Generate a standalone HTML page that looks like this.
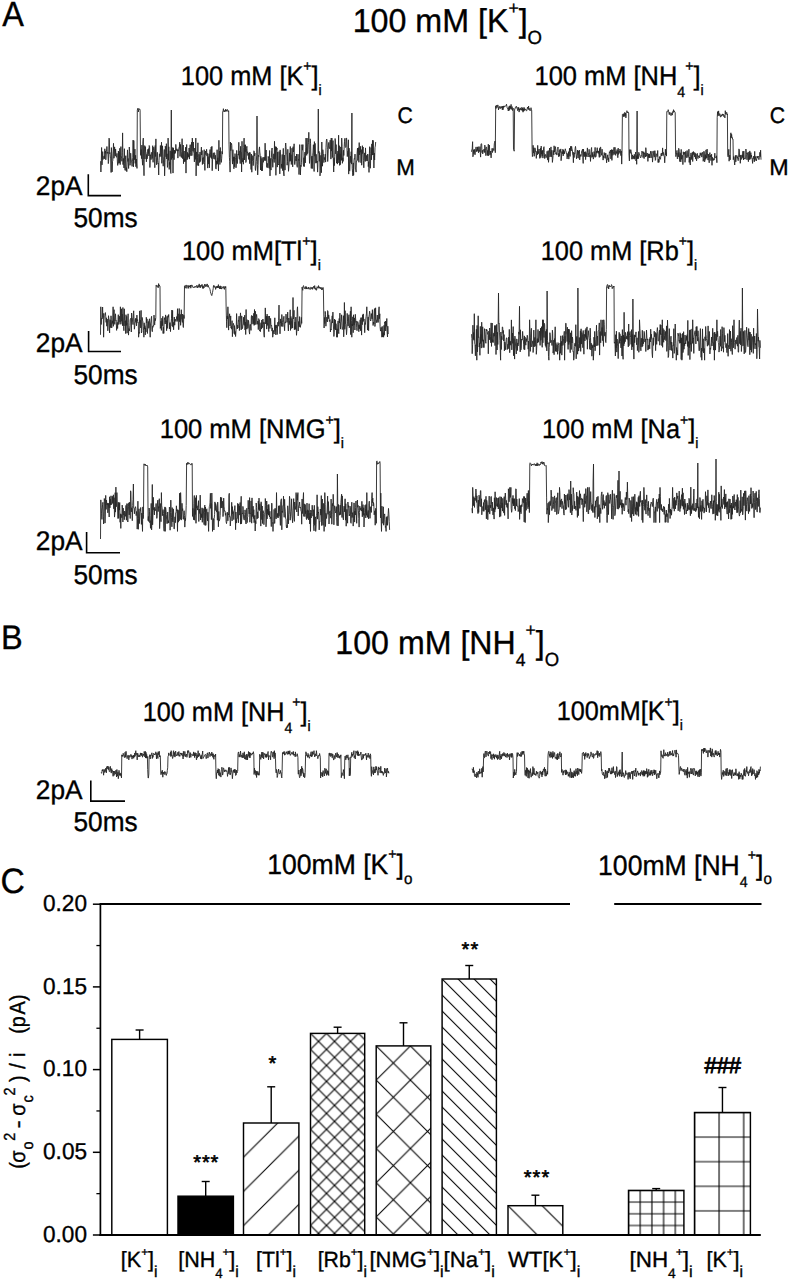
<!DOCTYPE html>
<html><head><meta charset="utf-8"><style>
html,body{margin:0;padding:0;background:#fff;}
svg{display:block;}
text{font-family:"Liberation Sans",sans-serif;fill:#000;stroke:#000;stroke-width:0.35px;font-kerning:none;text-rendering:geometricPrecision;}
.bd{stroke-width:0.9px;}
.st{stroke-width:0.6px;}
</style></head><body>
<svg width="789" height="1280" viewBox="0 0 789 1280">
<defs><pattern id="p2" patternUnits="userSpaceOnUse" x="243.50" y="1123.00" width="34.200" height="34.200"><path d="M-2,36.2 L36.2,-2 M-2,2 L2,-2 M32.2,36.2 L36.2,32.2 " stroke="#000" stroke-width="1.1" fill="none"/></pattern><pattern id="p3" patternUnits="userSpaceOnUse" x="310.50" y="1033.40" width="16.000" height="16.000"><path d="M-2,18.0 L18.0,-2 M-2,2 L2,-2 M14.0,18.0 L18.0,14.0 M-2,-2 L18.0,18.0 M-2,14.0 L2,18.0 M14.0,-2 L18.0,2 " stroke="#000" stroke-width="1.1" fill="none"/></pattern><pattern id="p4" patternUnits="userSpaceOnUse" x="376.20" y="1045.90" width="34.200" height="34.200"><path d="M-2,36.2 L36.2,-2 M-2,2 L2,-2 M32.2,36.2 L36.2,32.2 M-2,-2 L36.2,36.2 M-2,32.2 L2,36.2 M32.2,-2 L36.2,2 " stroke="#000" stroke-width="1.1" fill="none"/></pattern><pattern id="p5" patternUnits="userSpaceOnUse" x="442.10" y="979.00" width="16.000" height="16.000"><path d="M-2,-2 L18.0,18.0 M-2,14.0 L2,18.0 M14.0,-2 L18.0,2 " stroke="#000" stroke-width="1.1" fill="none"/></pattern><pattern id="p6" patternUnits="userSpaceOnUse" x="508.00" y="1205.70" width="34.200" height="34.200"><path d="M-2,-2 L36.2,36.2 M-2,32.2 L2,36.2 M32.2,-2 L36.2,2 " stroke="#000" stroke-width="1.1" fill="none"/></pattern><pattern id="p7" patternUnits="userSpaceOnUse" x="628.50" y="1190.40" width="11.700" height="11.700"><path d="M0,0 H11.7 M0,11.7 H11.7 M0,0 V11.7 M11.7,0 V11.7" stroke="#000" stroke-width="1.1" fill="none"/></pattern><pattern id="p8" patternUnits="userSpaceOnUse" x="694.50" y="1112.50" width="24.600" height="24.600"><path d="M0,0 H24.6 M0,24.6 H24.6 M0,0 V24.6 M24.6,0 V24.6" stroke="#000" stroke-width="1.1" fill="none"/></pattern></defs>
<rect width="789" height="1280" fill="#fff"/>
<text x="2.23" y="26.00" font-size="35" transform="translate(2.30,0) scale(0.9264,1) translate(-2.30,0)"><tspan y="26.00" font-size="35">A</tspan></text>
<text x="1.01" y="648.90" font-size="34" transform="translate(3.80,0) scale(0.9560,1) translate(-3.80,0)"><tspan y="648.90" font-size="34">B</tspan></text>
<text x="0.31" y="893.20" font-size="35.3" transform="translate(2.10,0) scale(0.9528,1) translate(-2.10,0)"><tspan y="893.20" font-size="35.3">C</tspan></text>
<text x="352.59" y="31.50" font-size="33" transform="translate(355.10,0) scale(0.9761,1) translate(-355.10,0)"><tspan y="31.50" font-size="33">100 mM [K</tspan><tspan y="14.10" font-size="18">+</tspan><tspan y="31.50" font-size="33">]</tspan><tspan y="44.40" font-size="19">O</tspan></text>
<text x="335.29" y="653.90" font-size="33" transform="translate(337.80,0) scale(0.9741,1) translate(-337.80,0)"><tspan y="653.90" font-size="33">100 mM [NH</tspan><tspan y="665.70" font-size="18">4</tspan><tspan y="635.50" font-size="18">+</tspan><tspan y="653.90" font-size="33">]</tspan><tspan y="665.70" font-size="19">O</tspan></text>
<text x="180.74" y="84.80" font-size="27" transform="translate(182.80,0) scale(0.9382,1) translate(-182.80,0)"><tspan y="84.80" font-size="27">100 mM [K</tspan><tspan y="71.40" font-size="15">+</tspan><tspan y="84.80" font-size="27">]</tspan><tspan y="95.00" font-size="15">i</tspan></text>
<text x="534.44" y="84.70" font-size="27" transform="translate(536.50,0) scale(0.9422,1) translate(-536.50,0)"><tspan y="84.70" font-size="27">100 mM [NH</tspan><tspan y="96.70" font-size="15">4</tspan><tspan y="71.30" font-size="15">+</tspan><tspan y="84.70" font-size="27">]</tspan><tspan y="94.90" font-size="15">i</tspan></text>
<text x="181.84" y="259.60" font-size="27" transform="translate(183.90,0) scale(0.9435,1) translate(-183.90,0)"><tspan y="259.60" font-size="27">100 mM[Tl</tspan><tspan y="246.20" font-size="15">+</tspan><tspan y="259.60" font-size="27">]</tspan><tspan y="269.80" font-size="15">i</tspan></text>
<text x="540.64" y="259.60" font-size="27" transform="translate(542.70,0) scale(0.9383,1) translate(-542.70,0)"><tspan y="259.60" font-size="27">100 mM [Rb</tspan><tspan y="246.20" font-size="15">+</tspan><tspan y="259.60" font-size="27">]</tspan><tspan y="269.80" font-size="15">i</tspan></text>
<text x="159.64" y="437.90" font-size="27" transform="translate(161.70,0) scale(0.9441,1) translate(-161.70,0)"><tspan y="437.90" font-size="27">100 mM [NMG</tspan><tspan y="424.50" font-size="15">+</tspan><tspan y="437.90" font-size="27">]</tspan><tspan y="448.10" font-size="15">i</tspan></text>
<text x="541.84" y="437.90" font-size="27" transform="translate(543.90,0) scale(0.9389,1) translate(-543.90,0)"><tspan y="437.90" font-size="27">100 mM [Na</tspan><tspan y="424.50" font-size="15">+</tspan><tspan y="437.90" font-size="27">]</tspan><tspan y="448.10" font-size="15">i</tspan></text>
<text x="142.54" y="720.60" font-size="27" transform="translate(144.60,0) scale(0.9358,1) translate(-144.60,0)"><tspan y="720.60" font-size="27">100 mM [NH</tspan><tspan y="732.60" font-size="15">4</tspan><tspan y="707.20" font-size="15">+</tspan><tspan y="720.60" font-size="27">]</tspan><tspan y="730.80" font-size="15">i</tspan></text>
<text x="556.64" y="720.10" font-size="27" transform="translate(558.70,0) scale(0.9333,1) translate(-558.70,0)"><tspan y="720.10" font-size="27">100mM[K</tspan><tspan y="706.70" font-size="15">+</tspan><tspan y="720.10" font-size="27">]</tspan><tspan y="730.30" font-size="15">i</tspan></text>
<text x="267.17" y="874.40" font-size="28" transform="translate(269.30,0) scale(0.9478,1) translate(-269.30,0)"><tspan y="874.40" font-size="28">100mM [K</tspan><tspan y="859.40" font-size="15">+</tspan><tspan y="874.40" font-size="28">]</tspan><tspan y="883.70" font-size="16">o</tspan></text>
<text x="597.97" y="874.60" font-size="28" transform="translate(600.10,0) scale(0.9488,1) translate(-600.10,0)"><tspan y="874.60" font-size="28">100mM [NH</tspan><tspan y="886.60" font-size="15">4</tspan><tspan y="859.60" font-size="15">+</tspan><tspan y="874.60" font-size="28">]</tspan><tspan y="883.90" font-size="16">o</tspan></text>
<text x="397.46" y="122.80" font-size="22.5" transform="translate(398.60,0) scale(0.9404,1) translate(-398.60,0)"><tspan y="122.80" font-size="22.5">C</tspan></text>
<text x="396.35" y="175.00" font-size="22.5" transform="translate(398.20,0) scale(0.9899,1) translate(-398.20,0)"><tspan y="175.00" font-size="22.5">M</tspan></text>
<text x="769.76" y="122.70" font-size="22.5" transform="translate(770.90,0) scale(0.9404,1) translate(-770.90,0)"><tspan y="122.70" font-size="22.5">C</tspan></text>
<text x="769.35" y="175.00" font-size="22.5" transform="translate(771.20,0) scale(1.0365,1) translate(-771.20,0)"><tspan y="175.00" font-size="22.5">M</tspan></text>
<text x="35.84" y="195.20" font-size="27" transform="translate(37.20,0) scale(0.9736,1) translate(-37.20,0)"><tspan y="195.20" font-size="27">2pA</tspan></text>
<text x="73.50" y="227.00" font-size="27.4" transform="translate(74.60,0) scale(0.9566,1) translate(-74.60,0)"><tspan y="227.00" font-size="27.4">50ms</tspan></text>
<polyline points="88.3,174.3 88.3,195.6 121.0,195.6" fill="none" stroke="#000" stroke-width="1.6"/>
<text x="35.84" y="351.60" font-size="27" transform="translate(37.20,0) scale(0.9736,1) translate(-37.20,0)"><tspan y="351.60" font-size="27">2pA</tspan></text>
<text x="73.50" y="383.90" font-size="27.4" transform="translate(74.60,0) scale(0.9566,1) translate(-74.60,0)"><tspan y="383.90" font-size="27.4">50ms</tspan></text>
<polyline points="88.6,331.0 88.6,351.5 121.0,351.5" fill="none" stroke="#000" stroke-width="1.6"/>
<text x="35.84" y="550.30" font-size="27" transform="translate(37.20,0) scale(0.9736,1) translate(-37.20,0)"><tspan y="550.30" font-size="27">2pA</tspan></text>
<text x="73.50" y="583.80" font-size="27.4" transform="translate(74.60,0) scale(0.9566,1) translate(-74.60,0)"><tspan y="583.80" font-size="27.4">50ms</tspan></text>
<polyline points="86.6,532.0 86.6,552.7 120.0,552.7" fill="none" stroke="#000" stroke-width="1.6"/>
<text x="35.84" y="798.60" font-size="27" transform="translate(37.20,0) scale(0.9736,1) translate(-37.20,0)"><tspan y="798.60" font-size="27">2pA</tspan></text>
<text x="73.50" y="830.80" font-size="27.4" transform="translate(74.60,0) scale(0.9566,1) translate(-74.60,0)"><tspan y="830.80" font-size="27.4">50ms</tspan></text>
<polyline points="90.8,780.6 90.8,801.1 125.0,801.1" fill="none" stroke="#000" stroke-width="1.6"/>
<polyline points="100.6,161.2 100.9,172.0 101.3,160.8 101.6,147.5 102.0,164.9 102.3,161.2 102.7,151.6 103.0,159.5 103.4,158.3 103.7,158.0 104.1,155.9 104.4,158.8 104.8,148.8 105.1,153.5 105.5,150.9 105.8,159.8 106.2,155.0 106.5,151.6 106.9,146.5 107.2,151.1 107.6,153.4 107.9,152.1 108.3,163.6 108.6,161.2 109.0,138.1 109.3,138.7 109.7,153.7 110.0,152.6 110.4,157.8 110.7,157.5 111.1,172.5 111.4,147.6 111.8,153.4 112.1,171.9 112.5,161.5 112.8,160.8 113.2,151.9 113.5,143.3 113.9,158.3 114.2,157.0 114.6,146.9 114.9,150.8 115.3,156.0 115.6,149.1 116.0,155.2 116.3,157.2 116.7,157.1 117.0,153.4 117.4,162.0 117.7,165.4 118.1,161.7 118.4,151.0 118.8,163.4 119.1,152.1 119.5,162.8 119.8,148.3 120.2,164.6 120.5,157.1 120.9,146.6 121.2,155.3 121.6,158.2 121.9,161.3 122.3,152.3 122.6,132.9 123.0,164.6 123.3,158.4 123.7,163.9 124.0,168.0 124.4,148.7 124.7,163.6 125.1,170.3 125.4,159.8 125.8,155.7 126.1,170.6 126.5,167.7 126.8,171.7 127.2,160.5 127.5,149.9 127.9,161.4 128.2,158.5 128.6,168.5 128.9,162.5 129.3,147.0 129.6,151.7 130.0,165.3 130.3,163.5 130.7,153.2 131.0,158.0 131.4,161.0 131.7,161.9 132.1,166.4 132.4,161.1 132.8,157.7 133.1,140.1 133.5,166.8 133.8,140.6 134.2,158.0 134.5,159.7 134.9,149.1 135.2,163.4 135.6,155.3 135.9,166.7 136.3,159.0 136.6,163.9 137.0,168.4 137.3,110.2 137.7,108.7 138.0,108.1 138.4,111.9 138.7,109.5 139.1,108.7 139.4,109.4 139.8,109.1 140.1,110.2 140.5,154.0 140.8,155.4 141.2,149.5 141.5,158.6 141.9,145.1 142.2,159.2 142.6,165.2 142.9,141.9 143.3,138.1 143.6,159.3 144.0,175.7 144.3,146.4 144.7,145.6 145.0,159.1 145.4,146.6 145.7,151.6 146.1,152.8 146.4,161.8 146.8,154.4 147.1,158.9 147.5,155.9 147.8,149.4 148.2,153.6 148.5,148.7 148.9,156.0 149.2,145.5 149.6,146.7 149.9,167.5 150.3,156.6 150.6,154.7 151.0,159.7 151.3,152.4 151.7,152.4 152.0,158.6 152.4,158.2 152.7,145.7 153.1,162.3 153.4,150.6 153.8,147.2 154.1,148.9 154.5,151.9 154.8,167.7 155.2,145.5 155.5,156.5 155.9,138.9 156.2,157.5 156.6,164.8 156.9,156.5 157.3,152.3 157.6,160.9 158.0,163.9 158.3,163.1 158.7,175.0 159.0,160.3 159.4,153.8 159.7,156.6 160.1,156.6 160.4,145.5 160.8,155.1 161.1,156.5 161.5,142.2 161.8,163.3 162.2,151.0 162.5,145.8 162.9,160.6 163.2,166.2 163.6,159.9 163.9,156.3 164.3,149.5 164.6,175.9 165.0,162.6 165.3,146.2 165.7,149.3 166.0,156.8 166.4,143.7 166.7,159.0 167.1,153.8 167.4,167.4 167.8,164.8 168.1,138.1 168.5,160.3 168.8,146.8 169.2,169.4 169.5,162.3 169.9,164.6 170.2,150.8 170.6,172.2 170.9,173.5 171.3,110.0 171.6,159.5 172.0,151.7 172.3,158.0 172.7,147.5 173.0,173.1 173.4,147.9 173.7,152.0 174.1,159.7 174.4,150.2 174.8,153.9 175.1,150.4 175.5,152.7 175.8,144.4 176.2,149.6 176.5,150.4 176.9,148.8 177.2,151.1 177.6,149.8 177.9,158.1 178.3,149.8 178.6,150.5 179.0,147.7 179.3,148.2 179.7,142.2 180.0,156.4 180.4,144.4 180.7,147.9 181.1,155.8 181.4,157.5 181.8,151.6 182.1,138.7 182.5,158.6 182.8,156.4 183.2,145.0 183.5,163.7 183.9,152.9 184.2,151.0 184.6,161.7 184.9,158.9 185.3,161.4 185.6,147.2 186.0,173.1 186.3,152.1 186.7,144.5 187.0,159.9 187.4,152.3 187.7,158.6 188.1,153.5 188.4,154.5 188.8,157.1 189.1,148.0 189.5,159.1 189.8,149.7 190.2,144.7 190.5,152.6 190.9,155.8 191.2,148.6 191.6,142.2 191.9,155.6 192.3,138.1 192.6,143.3 193.0,151.2 193.3,142.0 193.7,152.3 194.0,153.5 194.4,161.9 194.7,148.1 195.1,150.4 195.4,159.4 195.8,138.1 196.1,175.9 196.5,151.9 196.8,152.2 197.2,165.5 197.5,157.3 197.9,142.8 198.2,164.0 198.6,165.7 198.9,154.3 199.3,156.5 199.6,162.5 200.0,152.0 200.3,161.6 200.7,160.2 201.0,152.9 201.4,147.1 201.7,155.0 202.1,150.5 202.4,164.5 202.8,157.8 203.1,163.8 203.5,157.6 203.8,158.2 204.2,149.7 204.5,162.6 204.9,170.4 205.2,153.0 205.6,151.1 205.9,154.7 206.3,151.6 206.6,149.3 207.0,156.1 207.3,153.3 207.7,168.1 208.0,156.5 208.4,159.2 208.7,164.1 209.1,153.7 209.4,167.8 209.8,151.2 210.1,149.5 210.5,154.4 210.8,157.5 211.2,147.0 211.5,158.5 211.9,146.3 212.2,170.7 212.6,159.1 212.9,154.9 213.3,152.9 213.6,157.1 214.0,158.9 214.3,152.6 214.7,153.4 215.0,159.4 215.4,155.3 215.7,168.2 216.1,169.1 216.4,160.9 216.8,164.5 217.1,149.7 217.5,163.7 217.8,157.8 218.2,162.7 218.5,170.9 218.9,140.3 219.2,161.5 219.6,151.0 219.9,164.5 220.3,147.5 220.6,154.7 221.0,160.0 221.3,162.4 221.7,158.2 222.0,151.4 222.4,154.1 222.7,111.6 223.1,110.6 223.4,108.7 223.8,111.7 224.1,111.2 224.5,111.8 224.8,110.4 225.2,111.5 225.5,109.3 225.9,111.2 226.2,109.8 226.6,111.1 226.9,111.4 227.3,109.5 227.6,110.1 228.0,110.1 228.3,111.6 228.7,110.9 229.0,144.1 229.4,157.6 229.7,161.4 230.1,172.1 230.4,142.0 230.8,150.7 231.1,145.2 231.5,143.3 231.8,145.3 232.2,159.4 232.5,164.1 232.9,149.7 233.2,161.2 233.6,156.9 233.9,168.8 234.3,156.8 234.6,166.8 235.0,153.6 235.3,157.8 235.7,159.9 236.0,167.8 236.4,163.1 236.7,150.4 237.1,163.5 237.4,163.5 237.8,155.4 238.1,154.1 238.5,155.2 238.8,142.3 239.2,158.3 239.5,159.3 239.9,150.9 240.2,163.6 240.6,146.3 240.9,151.9 241.3,152.2 241.6,172.0 242.0,141.3 242.3,159.5 242.7,162.1 243.0,158.4 243.4,164.2 243.7,147.5 244.1,138.1 244.4,160.0 244.8,144.8 245.1,151.8 245.5,144.8 245.8,162.5 246.2,161.4 246.5,148.3 246.9,146.3 247.2,152.7 247.6,151.8 247.9,155.5 248.3,153.2 248.6,159.4 249.0,156.9 249.3,152.5 249.7,163.7 250.0,152.4 250.4,160.7 250.7,161.1 251.1,169.5 251.4,154.0 251.8,172.2 252.1,161.4 252.5,159.9 252.8,155.6 253.2,165.6 253.5,160.4 253.9,150.8 254.2,151.3 254.6,155.8 254.9,153.1 255.3,169.0 255.6,170.5 256.0,165.9 256.3,161.6 256.7,155.2 257.0,116.0 257.4,164.4 257.7,174.9 258.1,165.3 258.4,155.3 258.8,156.5 259.1,150.0 259.5,146.9 259.8,152.0 260.2,155.2 260.5,170.0 260.9,156.4 261.2,166.7 261.6,170.9 261.9,158.4 262.3,170.9 262.6,165.2 263.0,157.3 263.3,162.3 263.7,159.7 264.0,157.0 264.4,157.6 264.7,160.6 265.1,143.2 265.4,152.9 265.8,160.7 266.1,150.0 266.5,164.1 266.8,167.4 267.2,163.4 267.5,163.5 267.9,167.8 268.2,156.4 268.6,158.7 268.9,165.1 269.3,168.4 269.6,150.5 270.0,175.9 270.3,158.4 270.7,166.9 271.0,170.1 271.4,157.6 271.7,150.3 272.1,148.0 272.4,158.9 272.8,167.3 273.1,159.6 273.5,158.9 273.8,153.8 274.2,162.5 274.5,141.3 274.9,159.3 275.2,157.5 275.6,146.6 275.9,175.3 276.3,146.9 276.6,150.1 277.0,148.0 277.3,167.1 277.7,152.1 278.0,164.6 278.4,165.0 278.7,163.6 279.1,151.5 279.4,155.9 279.8,173.9 280.1,149.9 280.5,154.1 280.8,161.0 281.2,168.5 281.5,164.0 281.9,166.7 282.2,154.5 282.6,170.6 282.9,166.6 283.3,148.4 283.6,173.0 284.0,175.9 284.3,155.0 284.7,161.1 285.0,170.1 285.4,146.7 285.7,143.0 286.1,147.9 286.4,154.4 286.8,154.6 287.1,165.2 287.5,161.5 287.8,149.3 288.2,162.0 288.5,171.3 288.9,166.1 289.2,161.7 289.6,152.9 289.9,161.5 290.3,146.5 290.6,160.7 291.0,154.7 291.3,164.5 291.7,159.0 292.0,148.2 292.4,158.0 292.7,166.9 293.1,146.7 293.4,152.0 293.8,149.8 294.1,143.8 294.5,163.0 294.8,164.6 295.2,161.8 295.5,158.6 295.9,156.0 296.2,161.0 296.6,154.0 296.9,166.1 297.3,167.3 297.6,166.4 298.0,154.2 298.3,160.4 298.7,159.2 299.0,174.5 299.4,161.4 299.7,144.6 300.1,164.1 300.4,175.0 300.8,165.2 301.1,166.6 301.5,162.2 301.8,144.7 302.2,146.4 302.5,150.2 302.9,144.6 303.2,163.5 303.6,166.3 303.9,157.7 304.3,166.6 304.6,155.3 305.0,152.0 305.3,162.9 305.7,147.9 306.0,138.1 306.4,146.3 306.7,155.4 307.1,138.1 307.4,153.7 307.8,153.3 308.1,144.9 308.5,142.5 308.8,132.3 309.2,149.3 309.5,163.4 309.9,155.8 310.2,138.8 310.6,143.7 310.9,156.8 311.3,168.4 311.6,157.0 312.0,155.9 312.3,168.6 312.7,155.4 313.0,152.1 313.4,144.7 313.7,150.9 314.1,171.5 314.4,141.6 314.8,156.2 315.1,143.4 315.5,155.1 315.8,163.2 316.2,154.3 316.5,162.6 316.9,162.6 317.2,161.0 317.6,172.1 317.9,164.9 318.3,109.0 318.6,153.1 319.0,151.2 319.3,161.4 319.7,152.6 320.0,175.9 320.4,170.9 320.7,155.5 321.1,155.3 321.4,172.7 321.8,142.0 322.1,154.5 322.5,166.2 322.8,149.7 323.2,153.5 323.5,153.9 323.9,162.6 324.2,157.4 324.6,159.7 324.9,159.6 325.3,154.1 325.6,162.1 326.0,147.3 326.3,141.0 326.7,139.0 327.0,140.5 327.4,149.5 327.7,161.5 328.1,153.9 328.4,145.9 328.8,142.4 329.1,147.2 329.5,148.6 329.8,146.9 330.2,140.2 330.5,149.1 330.9,159.1 331.2,138.1 331.6,151.1 331.9,138.1 332.3,157.6 332.6,150.6 333.0,140.6 333.3,158.8 333.7,172.0 334.0,157.9 334.4,165.6 334.7,156.2 335.1,138.5 335.4,141.0 335.8,153.9 336.1,144.6 336.5,163.2 336.8,161.2 337.2,153.8 337.5,164.1 337.9,151.1 338.2,162.9 338.6,135.2 338.9,159.6 339.3,145.7 339.6,165.4 340.0,153.8 340.3,164.7 340.7,146.9 341.0,149.4 341.4,160.4 341.7,138.1 342.1,146.5 342.4,163.3 342.8,157.8 343.1,161.4 343.5,150.3 343.8,155.5 344.2,146.6 344.5,141.4 344.9,138.3 345.2,147.2 345.6,147.4 345.9,146.9 346.3,138.1 346.6,138.1 347.0,150.0 347.3,156.6 347.7,151.0 348.0,150.5 348.4,139.8 348.7,174.1 349.1,148.2 349.4,170.4 349.8,171.1 350.1,161.6 350.5,156.2 350.8,162.6 351.2,151.7 351.5,164.1 351.9,113.0 352.2,168.3 352.6,172.8 352.9,175.9 353.3,162.9 353.6,175.2 354.0,160.1 354.3,158.5 354.7,159.2 355.0,154.1 355.4,169.2 355.7,169.2 356.1,172.1 356.4,161.0 356.8,161.2 357.1,153.3 357.5,148.1 357.8,160.4 358.2,158.2 358.5,147.7 358.9,162.3 359.2,142.6 359.6,154.9 359.9,151.0 360.3,152.2 360.6,146.3 361.0,162.8 361.3,149.6 361.7,165.2 362.0,157.9 362.4,145.7 362.7,153.6 363.1,147.0 363.4,160.7 363.8,167.8 364.1,161.2 364.5,152.9 364.8,156.0 365.2,161.5 365.5,147.9 365.9,160.9 366.2,160.9 366.6,155.4 366.9,157.6 367.3,161.0 367.6,154.0 368.0,154.8 368.3,166.6 368.7,161.7 369.0,172.4 369.4,153.2 369.7,146.7 370.1,168.1 370.4,168.2 370.8,153.7 371.1,147.6 371.5,159.8 371.8,143.9 372.2,155.1 372.5,140.3 372.9,155.0 373.2,140.4 373.6,155.4 373.9,168.0 374.3,153.1 374.6,160.0 375.0,147.6 375.3,146.1 375.7,142.0" fill="none" stroke="#262626" stroke-width="0.9" stroke-linejoin="bevel"/>
<polyline points="471.5,151.8 471.9,149.4 472.2,149.3 472.6,141.7 472.9,156.8 473.3,154.9 473.6,149.7 474.0,153.7 474.3,152.4 474.7,149.3 475.0,154.8 475.4,150.4 475.7,149.4 476.1,146.9 476.4,151.6 476.8,149.6 477.1,151.4 477.5,147.2 477.8,150.3 478.2,146.6 478.5,152.8 478.9,150.1 479.2,151.1 479.6,151.5 479.9,146.6 480.3,152.5 480.6,157.1 481.0,144.1 481.3,143.6 481.7,143.9 482.0,152.6 482.4,150.3 482.7,153.9 483.1,152.2 483.4,150.3 483.8,150.4 484.1,149.0 484.5,152.5 484.8,145.1 485.2,147.6 485.5,150.3 485.9,155.7 486.2,147.3 486.6,146.9 486.9,148.8 487.3,154.9 487.6,150.5 488.0,156.0 488.3,144.2 488.7,155.5 489.0,154.5 489.4,145.1 489.7,151.0 490.1,154.8 490.4,151.0 490.8,154.5 491.1,157.9 491.5,152.5 491.8,150.5 492.2,148.2 492.5,152.5 492.9,149.9 493.2,149.2 493.6,148.6 493.9,150.6 494.3,143.8 494.6,142.3 495.0,141.1 495.3,152.7 495.7,105.8 496.0,108.5 496.4,106.4 496.7,105.2 497.1,107.5 497.4,106.6 497.8,104.9 498.1,105.6 498.5,109.9 498.8,107.8 499.2,108.0 499.5,106.9 499.9,106.2 500.2,108.7 500.6,107.5 500.9,106.8 501.3,107.8 501.6,106.5 502.0,108.1 502.3,109.7 502.7,106.1 503.0,109.8 503.4,106.1 503.7,107.5 504.1,105.8 504.4,106.6 504.8,106.7 505.1,105.9 505.5,106.0 505.8,106.0 506.2,105.5 506.5,104.2 506.9,106.5 507.2,107.8 507.6,108.7 507.9,108.4 508.3,111.0 508.6,107.7 509.0,106.5 509.3,110.4 509.7,105.8 510.0,109.2 510.4,106.2 510.7,108.3 511.1,104.4 511.4,109.4 511.8,108.1 512.1,106.6 512.5,110.5 512.8,108.9 513.2,108.1 513.5,149.5 513.9,150.0 514.2,151.2 514.6,109.3 514.9,109.4 515.3,107.5 515.6,107.4 516.0,107.7 516.3,106.2 516.7,107.5 517.0,108.4 517.4,109.3 517.7,110.7 518.1,107.1 518.4,109.6 518.8,107.7 519.1,112.1 519.5,109.0 519.8,110.3 520.2,107.9 520.5,108.1 520.9,110.0 521.2,109.2 521.6,110.2 521.9,107.2 522.3,110.6 522.6,108.0 523.0,112.2 523.3,108.8 523.7,111.2 524.0,107.3 524.4,110.5 524.7,108.5 525.1,109.1 525.4,109.7 525.8,109.1 526.1,110.3 526.5,111.1 526.8,110.4 527.2,109.2 527.5,107.0 527.9,107.8 528.2,108.8 528.6,106.0 528.9,109.9 529.3,108.4 529.6,108.8 530.0,110.9 530.3,110.5 530.7,109.8 531.0,107.7 531.4,110.4 531.7,110.2 532.1,149.7 532.4,156.6 532.8,154.7 533.1,145.3 533.5,152.8 533.8,147.9 534.2,156.3 534.5,154.6 534.9,147.8 535.2,148.5 535.6,151.9 535.9,151.6 536.3,158.4 536.6,154.9 537.0,151.3 537.3,154.9 537.7,145.4 538.0,153.1 538.4,153.8 538.7,150.5 539.1,149.0 539.4,153.7 539.8,158.4 540.1,152.5 540.5,148.2 540.8,157.6 541.2,146.1 541.5,154.2 541.9,151.0 542.2,156.2 542.6,150.3 542.9,158.1 543.3,154.2 543.6,147.8 544.0,146.7 544.3,152.6 544.7,158.6 545.0,155.0 545.4,155.4 545.7,154.4 546.1,157.7 546.4,156.3 546.8,156.3 547.1,151.3 547.5,159.4 547.8,160.1 548.2,150.6 548.5,162.3 548.9,157.5 549.2,153.1 549.6,148.0 549.9,156.9 550.3,156.2 550.6,151.1 551.0,146.9 551.3,156.9 551.7,150.2 552.0,150.6 552.4,162.4 552.7,159.7 553.1,155.6 553.4,150.5 553.8,154.9 554.1,145.8 554.5,152.1 554.8,149.1 555.2,147.3 555.5,146.7 555.9,154.2 556.2,152.7 556.6,152.9 556.9,155.1 557.3,149.6 557.6,148.7 558.0,147.0 558.3,152.4 558.7,156.8 559.0,153.5 559.4,156.2 559.7,149.6 560.1,152.5 560.4,151.1 560.8,148.9 561.1,160.7 561.5,157.0 561.8,151.5 562.2,151.8 562.5,153.8 562.9,149.2 563.2,155.9 563.6,150.1 563.9,154.1 564.3,151.5 564.6,153.6 565.0,150.2 565.3,148.8 565.7,150.8 566.0,151.3 566.4,152.6 566.7,154.1 567.1,158.9 567.4,157.4 567.8,153.5 568.1,156.8 568.5,151.7 568.8,159.1 569.2,154.9 569.5,148.2 569.9,156.1 570.2,156.4 570.6,146.3 570.9,150.4 571.3,151.0 571.6,146.3 572.0,148.8 572.3,149.7 572.7,154.6 573.0,154.4 573.4,162.7 573.7,152.2 574.1,157.6 574.4,153.2 574.8,154.0 575.1,148.7 575.5,146.4 575.8,149.1 576.2,155.3 576.5,158.8 576.9,155.1 577.2,155.0 577.6,150.0 577.9,158.0 578.3,158.2 578.6,151.1 579.0,153.4 579.3,150.0 579.7,159.9 580.0,156.4 580.4,154.6 580.7,156.4 581.1,156.4 581.4,153.7 581.8,150.9 582.1,150.8 582.5,149.2 582.8,157.4 583.2,163.4 583.5,149.1 583.9,155.6 584.2,156.7 584.6,152.0 584.9,156.3 585.3,151.6 585.6,159.6 586.0,152.5 586.3,154.9 586.7,156.6 587.0,152.4 587.4,147.9 587.7,152.2 588.1,157.0 588.4,153.6 588.8,154.5 589.1,149.3 589.5,154.4 589.8,157.1 590.2,154.9 590.5,161.4 590.9,153.1 591.2,149.6 591.6,147.5 591.9,157.4 592.3,152.4 592.6,156.7 593.0,154.6 593.3,159.1 593.7,157.7 594.0,151.6 594.4,153.7 594.7,156.6 595.1,147.4 595.4,157.3 595.8,156.5 596.1,156.5 596.5,151.2 596.8,152.8 597.2,147.7 597.5,152.3 597.9,151.0 598.2,153.4 598.6,150.9 598.9,154.1 599.3,157.4 599.6,148.4 600.0,156.8 600.3,147.1 600.7,147.1 601.0,153.0 601.4,153.4 601.7,155.3 602.1,149.2 602.4,154.8 602.8,155.9 603.1,160.1 603.5,155.8 603.8,158.0 604.2,152.5 604.5,155.1 604.9,153.9 605.2,158.4 605.6,153.2 605.9,153.1 606.3,158.4 606.6,162.8 607.0,157.6 607.3,157.7 607.7,154.8 608.0,160.1 608.4,157.9 608.7,161.8 609.1,156.4 609.4,151.8 609.8,152.9 610.1,151.1 610.5,150.1 610.8,158.8 611.2,157.0 611.5,149.6 611.9,160.4 612.2,155.0 612.6,149.8 612.9,155.3 613.3,154.0 613.6,151.3 614.0,147.3 614.3,153.7 614.7,154.4 615.0,147.3 615.4,155.1 615.7,155.4 616.1,151.2 616.4,153.5 616.8,151.6 617.1,149.5 617.5,151.9 617.8,157.7 618.2,148.1 618.5,154.4 618.9,153.9 619.2,151.1 619.6,152.5 619.9,149.0 620.3,150.0 620.6,153.9 621.0,155.7 621.3,150.9 621.7,164.1 622.0,153.4 622.4,114.5 622.7,114.2 623.1,113.9 623.4,116.6 623.8,113.7 624.1,116.7 624.5,115.9 624.8,112.3 625.2,115.8 625.5,113.1 625.9,117.9 626.2,113.5 626.6,112.7 626.9,110.7 627.3,112.0 627.6,113.0 628.0,112.3 628.3,112.2 628.7,112.9 629.0,155.1 629.4,160.9 629.7,149.6 630.1,153.4 630.4,151.8 630.8,149.7 631.1,151.2 631.5,152.8 631.8,159.2 632.2,156.4 632.5,154.9 632.9,159.1 633.2,157.9 633.6,156.1 633.9,158.5 634.3,154.4 634.6,159.2 635.0,158.4 635.3,154.6 635.7,152.0 636.0,161.0 636.4,155.7 636.7,164.3 637.1,111.0 637.4,158.9 637.8,154.3 638.1,157.0 638.5,158.6 638.8,152.3 639.2,153.9 639.5,154.9 639.9,154.8 640.2,156.8 640.6,157.9 640.9,157.3 641.3,156.0 641.6,154.5 642.0,151.0 642.3,152.8 642.7,152.3 643.0,157.5 643.4,154.3 643.7,151.7 644.1,158.6 644.4,153.0 644.8,152.8 645.1,154.4 645.5,157.0 645.8,147.7 646.2,151.9 646.5,156.3 646.9,154.3 647.2,153.0 647.6,154.3 647.9,161.4 648.3,153.8 648.6,157.4 649.0,157.9 649.3,153.9 649.7,157.9 650.0,154.6 650.4,153.5 650.7,151.1 651.1,157.9 651.4,153.4 651.8,152.9 652.1,151.3 652.5,162.1 652.8,158.3 653.2,156.0 653.5,154.0 653.9,150.9 654.2,156.8 654.6,156.9 654.9,150.7 655.3,160.4 655.6,159.8 656.0,153.6 656.3,154.1 656.7,154.9 657.0,156.7 657.4,155.8 657.7,150.5 658.1,162.5 658.4,159.0 658.8,162.5 659.1,162.1 659.5,156.6 659.8,158.2 660.2,158.9 660.5,159.3 660.9,155.3 661.2,153.4 661.6,156.0 661.9,153.1 662.3,154.0 662.6,147.9 663.0,155.6 663.3,152.4 663.7,153.7 664.0,155.5 664.4,157.0 664.7,162.8 665.1,155.8 665.4,149.2 665.8,155.0 666.1,152.6 666.5,156.1 666.8,111.5 667.2,111.5 667.5,111.7 667.9,111.6 668.2,109.7 668.6,111.6 668.9,112.8 669.3,114.7 669.6,112.4 670.0,112.2 670.3,113.9 670.7,113.9 671.0,115.7 671.4,113.5 671.7,112.8 672.1,114.8 672.4,115.1 672.8,111.6 673.1,112.6 673.5,109.7 673.8,111.7 674.2,110.8 674.5,112.0 674.9,111.8 675.2,112.5 675.6,154.8 675.9,156.7 676.3,155.2 676.6,152.7 677.0,150.4 677.3,158.5 677.7,159.0 678.0,152.7 678.4,156.8 678.7,148.3 679.1,149.8 679.4,155.0 679.8,161.6 680.1,152.7 680.5,153.3 680.8,161.9 681.2,149.4 681.5,159.3 681.9,158.3 682.2,155.2 682.6,156.0 682.9,164.6 683.3,151.8 683.6,154.4 684.0,154.7 684.3,154.3 684.7,152.1 685.0,162.3 685.4,157.9 685.7,151.4 686.1,154.3 686.4,157.6 686.8,157.6 687.1,150.5 687.5,156.4 687.8,157.4 688.2,157.3 688.5,156.6 688.9,149.2 689.2,162.4 689.6,157.1 689.9,163.1 690.3,165.0 690.6,156.7 691.0,152.9 691.3,159.6 691.7,155.2 692.0,154.5 692.4,152.3 692.7,161.5 693.1,154.3 693.4,151.5 693.8,154.7 694.1,152.3 694.5,156.8 694.8,154.6 695.2,152.9 695.5,158.8 695.9,154.0 696.2,158.9 696.6,160.8 696.9,155.1 697.3,153.3 697.6,156.2 698.0,158.6 698.3,156.0 698.7,156.6 699.0,155.5 699.4,156.6 699.7,157.9 700.1,152.9 700.4,153.4 700.8,155.5 701.1,152.7 701.5,155.3 701.8,157.1 702.2,154.8 702.5,152.9 702.9,152.1 703.2,161.3 703.6,158.4 703.9,151.2 704.3,152.1 704.6,161.9 705.0,160.3 705.3,154.6 705.7,159.3 706.0,149.9 706.4,155.5 706.7,158.2 707.1,149.1 707.4,152.7 707.8,158.5 708.1,160.1 708.5,154.2 708.8,157.5 709.2,162.8 709.5,155.8 709.9,152.6 710.2,157.0 710.6,155.3 710.9,160.6 711.3,157.1 711.6,154.2 712.0,165.3 712.3,157.2 712.7,160.3 713.0,160.7 713.4,160.3 713.7,158.5 714.1,160.1 714.4,158.0 714.8,153.2 715.1,157.3 715.5,157.3 715.8,157.2 716.2,158.2 716.5,155.8 716.9,162.7 717.2,117.7 717.6,111.6 717.9,115.6 718.3,114.6 718.6,110.9 719.0,115.9 719.3,113.9 719.7,113.9 720.0,113.7 720.4,117.0 720.7,117.1 721.1,115.5 721.4,116.2 721.8,114.7 722.1,115.5 722.5,113.9 722.8,115.2 723.2,114.0 723.5,115.8 723.9,116.7 724.2,115.4 724.6,116.4 724.9,117.9 725.3,110.7 725.6,114.2 726.0,113.3 726.3,113.4 726.7,112.3 727.0,114.8 727.4,113.9 727.7,155.0 728.1,156.9 728.4,155.8 728.8,149.3 729.1,161.2 729.5,156.8 729.8,155.2 730.2,159.8 730.5,135.7 730.9,132.8 731.2,138.1 731.6,134.3 731.9,136.6 732.3,137.2 732.6,139.2 733.0,139.1 733.3,159.7 733.7,156.5 734.0,156.7 734.4,162.0 734.7,165.0 735.1,159.9 735.4,155.3 735.8,161.8 736.1,156.9 736.5,155.8 736.8,155.3 737.2,158.2 737.5,156.7 737.9,159.7 738.2,160.7 738.6,157.5 738.9,148.9 739.3,149.8 739.6,156.7 740.0,155.3 740.3,163.3 740.7,155.2 741.0,155.1 741.4,159.4 741.7,159.2 742.1,154.8 742.4,157.6 742.8,151.3 743.1,152.1 743.5,160.0 743.8,151.1 744.2,159.1 744.5,158.5 744.9,159.0 745.2,159.1 745.6,158.1 745.9,149.0 746.3,152.6 746.6,154.4 747.0,159.8 747.3,152.6 747.7,153.8 748.0,155.4 748.4,161.7 748.7,152.1 749.1,152.1 749.4,159.6 749.8,150.9 750.1,159.3 750.5,156.9 750.8,152.6 751.2,157.1 751.5,155.2 751.9,158.8 752.2,159.4 752.6,163.4 752.9,158.0 753.3,158.6 753.6,156.2 754.0,158.0 754.3,161.8 754.7,151.4 755.0,160.5 755.4,156.5 755.7,158.4 756.1,159.2 756.4,160.9 756.8,158.3 757.1,156.1 757.5,158.1 757.8,156.9 758.2,156.0 758.5,157.3 758.9,159.7 759.2,157.9 759.6,157.6 759.9,152.3 760.3,156.6 760.6,150.2 761.0,159.7" fill="none" stroke="#262626" stroke-width="0.9" stroke-linejoin="bevel"/>
<polyline points="100.5,334.8 100.8,306.8 101.2,324.5 101.5,318.4 101.9,318.3 102.2,319.0 102.6,307.0 102.9,317.6 103.3,313.4 103.6,337.2 104.0,320.1 104.3,315.7 104.7,315.3 105.0,313.5 105.4,312.6 105.7,316.1 106.1,322.4 106.4,317.8 106.8,326.2 107.1,319.0 107.5,320.9 107.8,330.8 108.2,322.9 108.5,315.7 108.9,319.0 109.2,323.8 109.6,332.9 109.9,319.6 110.3,319.9 110.6,327.6 111.0,315.8 111.3,319.8 111.7,328.0 112.0,325.5 112.4,320.8 112.7,323.4 113.1,306.8 113.4,326.3 113.8,313.3 114.1,309.7 114.5,321.7 114.8,324.4 115.2,317.8 115.5,313.8 115.9,321.0 116.2,320.5 116.6,330.4 116.9,325.7 117.3,322.4 117.6,328.5 118.0,319.6 118.3,314.7 118.7,324.5 119.0,324.2 119.4,319.3 119.7,316.2 120.1,322.2 120.4,306.8 120.8,324.3 121.1,322.1 121.5,308.8 121.8,321.2 122.2,314.1 122.5,325.7 122.9,307.5 123.2,316.1 123.6,326.6 123.9,330.7 124.3,308.8 124.6,320.7 125.0,325.9 125.3,320.6 125.7,333.6 126.0,314.7 126.4,325.4 126.7,316.4 127.1,333.2 127.4,322.6 127.8,322.1 128.1,313.8 128.5,335.1 128.8,328.5 129.2,329.1 129.5,330.8 129.9,325.5 130.2,319.7 130.6,319.1 130.9,318.2 131.3,332.0 131.6,313.0 132.0,318.5 132.3,318.2 132.7,322.1 133.0,324.6 133.4,313.4 133.7,310.8 134.1,321.3 134.4,329.2 134.8,325.6 135.1,321.6 135.5,318.5 135.8,322.3 136.2,318.4 136.5,325.8 136.9,315.1 137.2,320.8 137.6,319.6 137.9,323.0 138.3,322.6 138.6,337.2 139.0,332.2 139.3,333.4 139.7,310.9 140.0,322.7 140.4,320.1 140.7,327.9 141.1,310.4 141.4,333.0 141.8,332.0 142.1,317.4 142.5,320.2 142.8,321.2 143.2,326.5 143.5,330.3 143.9,337.2 144.2,322.8 144.6,329.1 144.9,325.7 145.3,334.9 145.6,327.8 146.0,331.9 146.3,317.3 146.7,322.8 147.0,318.9 147.4,333.5 147.7,328.5 148.1,322.4 148.4,321.5 148.8,328.3 149.1,320.4 149.5,318.8 149.8,328.3 150.2,337.2 150.5,323.2 150.9,322.1 151.2,318.7 151.6,316.3 151.9,329.7 152.3,331.7 152.6,326.3 153.0,327.3 153.3,325.4 153.7,326.1 154.0,315.1 154.4,323.0 154.7,324.9 155.1,318.4 155.4,320.6 155.8,317.7 156.1,285.3 156.5,286.4 156.8,285.3 157.2,285.5 157.5,286.7 157.9,286.5 158.2,287.8 158.6,283.6 158.9,286.5 159.3,284.9 159.6,285.7 160.0,286.5 160.3,328.4 160.7,326.4 161.0,321.1 161.4,330.4 161.7,318.3 162.1,319.4 162.4,325.7 162.8,316.3 163.1,333.5 163.5,327.3 163.8,333.4 164.2,320.2 164.5,317.7 164.9,320.6 165.2,324.0 165.6,314.9 165.9,322.1 166.3,320.7 166.6,330.7 167.0,316.4 167.3,328.4 167.7,318.0 168.0,315.6 168.4,317.2 168.7,314.5 169.1,323.5 169.4,328.9 169.8,322.7 170.1,325.6 170.5,331.6 170.8,322.9 171.2,321.8 171.5,318.5 171.9,310.0 172.2,326.0 172.6,310.5 172.9,327.1 173.3,322.3 173.6,329.8 174.0,321.9 174.3,317.0 174.7,325.2 175.0,319.0 175.4,320.7 175.7,321.3 176.1,319.0 176.4,318.8 176.8,316.5 177.1,321.5 177.5,308.7 177.8,320.3 178.2,313.8 178.5,329.5 178.9,329.7 179.2,308.5 179.6,321.7 179.9,320.4 180.3,314.4 180.6,325.3 181.0,319.1 181.3,309.7 181.7,319.4 182.0,319.7 182.4,322.4 182.7,314.0 183.1,326.2 183.4,327.5 183.8,315.2 184.1,318.5 184.5,286.2 184.8,285.7 185.2,288.2 185.5,286.3 185.9,285.1 186.2,285.0 186.6,285.8 186.9,288.4 187.3,285.5 187.6,285.8 188.0,286.3 188.3,285.7 188.7,288.4 189.0,285.5 189.4,286.9 189.7,286.3 190.1,287.0 190.4,285.0 190.8,288.2 191.1,285.8 191.5,286.0 191.8,284.9 192.2,285.3 192.5,286.9 192.9,287.4 193.2,287.3 193.6,287.9 193.9,287.4 194.3,286.6 194.6,287.4 195.0,287.1 195.3,286.3 195.7,287.0 196.0,287.4 196.4,286.2 196.7,285.4 197.1,286.7 197.4,287.9 197.8,285.6 198.1,285.7 198.5,285.6 198.8,287.4 199.2,283.9 199.5,286.4 199.9,287.4 200.2,285.2 200.6,287.7 200.9,286.4 201.3,285.3 201.6,286.3 202.0,284.3 202.3,285.5 202.7,288.4 203.0,285.6 203.4,288.4 203.7,286.5 204.1,287.7 204.4,286.6 204.8,284.0 205.1,285.9 205.5,286.6 205.8,284.8 206.2,284.6 206.5,286.4 206.9,285.1 207.2,283.9 207.6,285.1 207.9,287.1 208.3,285.5 208.6,286.8 209.0,287.5 209.3,288.0 209.7,288.5 210.0,289.5 210.4,291.4 210.7,293.1 211.1,293.8 211.4,295.1 211.8,295.6 212.1,294.5 212.5,292.5 212.8,290.9 213.2,288.7 213.5,285.5 213.9,286.7 214.2,285.8 214.6,285.9 214.9,287.5 215.3,286.9 215.6,289.4 216.0,288.2 216.3,286.3 216.7,287.8 217.0,287.3 217.4,286.0 217.7,288.0 218.1,286.0 218.4,284.6 218.8,287.9 219.1,286.4 219.5,288.8 219.8,286.4 220.2,285.8 220.5,288.9 220.9,286.0 221.2,287.5 221.6,289.1 221.9,287.6 222.3,287.3 222.6,287.4 223.0,288.3 223.3,286.4 223.7,287.8 224.0,287.8 224.4,289.4 224.7,286.9 225.1,286.2 225.4,287.9 225.8,286.7 226.1,306.1 226.5,321.2 226.8,327.7 227.2,316.1 227.5,319.0 227.9,306.8 228.2,314.1 228.6,330.1 228.9,316.8 229.3,317.1 229.6,313.8 230.0,325.9 230.3,324.6 230.7,315.9 231.0,328.1 231.4,326.3 231.7,329.2 232.1,320.7 232.4,336.7 232.8,328.3 233.1,325.0 233.5,323.4 233.8,325.6 234.2,333.6 234.5,325.6 234.9,334.5 235.2,331.5 235.6,336.5 235.9,332.1 236.3,326.0 236.6,313.6 237.0,326.7 237.3,329.0 237.7,325.1 238.0,328.0 238.4,320.3 238.7,321.3 239.1,316.2 239.4,330.6 239.8,322.4 240.1,318.9 240.5,312.9 240.8,319.7 241.2,329.9 241.5,316.2 241.9,315.9 242.2,328.8 242.6,328.1 242.9,325.2 243.3,324.0 243.6,317.2 244.0,323.8 244.3,325.4 244.7,315.2 245.0,329.9 245.4,322.2 245.7,334.5 246.1,309.5 246.4,327.6 246.8,329.2 247.1,319.7 247.5,325.0 247.8,328.4 248.2,326.8 248.5,320.3 248.9,323.5 249.2,331.5 249.6,334.1 249.9,325.3 250.3,324.3 250.6,326.2 251.0,330.4 251.3,316.8 251.7,315.4 252.0,324.2 252.4,316.1 252.7,317.5 253.1,320.3 253.4,323.7 253.8,313.3 254.1,325.4 254.5,309.5 254.8,324.9 255.2,311.1 255.5,311.9 255.9,324.4 256.2,317.1 256.6,314.4 256.9,317.8 257.3,324.3 257.6,321.0 258.0,321.5 258.3,329.6 258.7,318.6 259.0,319.6 259.4,319.9 259.7,331.0 260.1,330.1 260.4,331.7 260.8,323.2 261.1,322.6 261.5,329.1 261.8,320.0 262.2,327.8 262.5,327.6 262.9,319.0 263.2,323.8 263.6,322.4 263.9,334.1 264.3,337.2 264.6,322.6 265.0,323.4 265.3,307.9 265.7,324.0 266.0,323.3 266.4,316.2 266.7,329.1 267.1,314.1 267.4,322.5 267.8,325.5 268.1,316.0 268.5,329.6 268.8,331.6 269.2,316.7 269.5,316.0 269.9,328.5 270.2,324.9 270.6,318.4 270.9,324.3 271.3,325.8 271.6,325.3 272.0,331.1 272.3,327.9 272.7,337.2 273.0,335.3 273.4,330.4 273.7,332.2 274.1,334.0 274.4,330.8 274.8,317.8 275.1,331.3 275.5,325.3 275.8,334.9 276.2,324.9 276.5,327.7 276.9,326.7 277.2,334.5 277.6,324.5 277.9,322.2 278.3,326.2 278.6,320.3 279.0,305.1 279.3,323.2 279.7,322.9 280.0,333.8 280.4,318.9 280.7,322.9 281.1,321.7 281.4,326.4 281.8,314.5 282.1,317.9 282.5,322.5 282.8,326.6 283.2,322.4 283.5,319.3 283.9,316.3 284.2,324.4 284.6,330.7 284.9,322.9 285.3,321.8 285.6,323.1 286.0,314.1 286.3,318.1 286.7,319.6 287.0,322.4 287.4,320.5 287.7,312.1 288.1,327.0 288.4,331.0 288.8,318.0 289.1,322.5 289.5,321.4 289.8,324.7 290.2,309.8 290.5,330.4 290.9,316.5 291.2,328.6 291.6,320.6 291.9,318.5 292.3,320.0 292.6,328.1 293.0,297.5 293.3,319.0 293.7,318.1 294.0,310.3 294.4,329.7 294.7,325.7 295.1,322.0 295.4,329.4 295.8,317.1 296.1,323.1 296.5,335.3 296.8,330.8 297.2,309.8 297.5,306.8 297.9,318.3 298.2,331.0 298.6,321.5 298.9,321.9 299.3,326.8 299.6,316.6 300.0,323.7 300.3,327.4 300.7,325.1 301.0,324.5 301.4,317.4 301.7,323.4 302.1,287.1 302.4,289.1 302.8,290.3 303.1,286.6 303.5,285.6 303.8,286.9 304.2,287.8 304.5,288.5 304.9,288.7 305.2,286.8 305.6,286.7 305.9,289.1 306.3,286.6 306.6,289.0 307.0,287.5 307.3,288.8 307.7,288.6 308.0,288.7 308.4,288.9 308.7,287.0 309.1,288.6 309.4,288.3 309.8,288.5 310.1,289.6 310.5,287.9 310.8,287.2 311.2,287.4 311.5,287.9 311.9,289.1 312.2,287.2 312.6,289.3 312.9,288.4 313.3,287.6 313.6,286.3 314.0,288.0 314.3,288.4 314.7,285.6 315.0,288.9 315.4,289.5 315.7,288.0 316.1,288.1 316.4,290.3 316.8,289.1 317.1,286.7 317.5,287.7 317.8,287.6 318.2,287.5 318.5,285.6 318.9,288.3 319.2,286.8 319.6,287.8 319.9,287.4 320.3,288.8 320.6,287.6 321.0,287.2 321.3,288.7 321.7,289.8 322.0,287.7 322.4,289.6 322.7,288.4 323.1,287.5 323.4,289.9 323.8,316.1 324.1,328.0 324.5,317.5 324.8,323.5 325.2,311.4 325.5,314.4 325.9,326.2 326.2,321.2 326.6,320.9 326.9,317.1 327.3,322.0 327.6,310.6 328.0,311.6 328.3,318.7 328.7,314.9 329.0,317.1 329.4,321.5 329.7,320.2 330.1,319.7 330.4,332.0 330.8,328.9 331.1,330.0 331.5,323.0 331.8,320.9 332.2,315.8 332.5,322.9 332.9,312.1 333.2,321.0 333.6,329.9 333.9,336.5 334.3,332.2 334.6,319.0 335.0,328.9 335.3,320.0 335.7,330.0 336.0,323.7 336.4,330.2 336.7,337.2 337.1,328.9 337.4,337.2 337.8,324.4 338.1,320.9 338.5,331.5 338.8,333.7 339.2,318.5 339.5,323.0 339.9,313.1 340.2,321.6 340.6,329.1 340.9,322.3 341.3,320.1 341.6,314.8 342.0,325.6 342.3,329.5 342.7,328.6 343.0,326.3 343.4,315.7 343.7,336.8 344.1,325.1 344.4,302.5 344.8,329.3 345.1,310.7 345.5,323.9 345.8,324.5 346.2,328.0 346.5,334.7 346.9,329.5 347.2,313.4 347.6,321.8 347.9,326.2 348.3,325.8 348.6,316.9 349.0,314.7 349.3,327.8 349.7,325.6 350.0,322.9 350.4,311.2 350.7,334.6 351.1,306.8 351.4,320.5 351.8,337.2 352.1,324.0 352.5,326.0 352.8,316.8 353.2,332.7 353.5,314.8 353.9,324.6 354.2,325.1 354.6,317.9 354.9,330.0 355.3,314.3 355.6,318.4 356.0,322.4 356.3,321.2 356.7,327.6 357.0,330.7 357.4,323.9 357.7,321.5 358.1,322.6 358.4,324.2 358.8,331.7 359.1,324.7 359.5,328.7 359.8,324.6 360.2,319.8 360.5,330.7 360.9,317.7 361.2,324.3 361.6,335.1 361.9,317.6 362.3,324.7 362.6,314.8 363.0,321.7 363.3,313.9 363.7,320.5 364.0,319.1 364.4,323.1 364.7,332.7 365.1,323.3 365.4,324.4 365.8,318.9 366.1,316.6 366.5,313.1 366.8,306.8 367.2,319.2 367.5,330.1 367.9,323.7 368.2,317.1 368.6,330.7 368.9,317.1 369.3,314.4 369.6,311.2 370.0,313.8 370.3,319.8 370.7,321.0 371.0,319.2 371.4,313.6 371.7,316.0 372.1,318.9 372.4,309.7 372.8,321.5 373.1,325.5 373.5,322.0 373.8,324.0 374.2,311.1 374.5,308.6 374.9,326.5 375.2,324.6 375.6,307.8 375.9,319.5 376.3,319.7 376.6,322.7 377.0,320.0 377.3,315.0 377.7,322.1 378.0,322.6 378.4,322.2 378.7,311.0 379.1,306.8 379.4,318.7 379.8,313.8 380.1,326.8 380.5,331.1 380.8,329.8 381.2,327.4 381.5,329.4 381.9,337.2 382.2,326.4 382.6,337.0 382.9,335.5 383.3,332.6 383.6,337.2 384.0,325.4 384.3,335.3 384.7,322.1 385.0,323.2 385.4,321.0 385.7,331.0 386.1,321.6 386.4,326.3 386.8,318.5 387.1,332.2 387.5,337.0 387.8,326.2 388.2,334.0" fill="none" stroke="#262626" stroke-width="0.9" stroke-linejoin="bevel"/>
<polyline points="471.5,334.2 471.9,338.5 472.2,353.7 472.6,344.8 472.9,325.2 473.3,339.4 473.6,332.5 474.0,340.3 474.3,313.7 474.7,343.0 475.0,344.7 475.4,355.8 475.7,344.9 476.1,345.7 476.4,329.3 476.8,360.2 477.1,325.4 477.5,351.8 477.8,338.5 478.2,315.8 478.5,337.5 478.9,336.9 479.2,347.0 479.6,342.9 479.9,355.3 480.3,326.4 480.6,343.5 481.0,334.4 481.3,348.1 481.7,322.2 482.0,335.8 482.4,341.3 482.7,326.8 483.1,347.6 483.4,339.8 483.8,346.8 484.1,347.5 484.5,328.7 484.8,331.0 485.2,334.8 485.5,341.7 485.9,343.3 486.2,329.1 486.6,330.9 486.9,329.7 487.3,331.6 487.6,334.2 488.0,335.3 488.3,353.8 488.7,331.2 489.0,332.8 489.4,339.8 489.7,328.0 490.1,333.2 490.4,336.4 490.8,342.8 491.1,322.9 491.5,346.4 491.8,331.4 492.2,323.0 492.5,342.2 492.9,339.7 493.2,342.6 493.6,333.6 493.9,332.9 494.3,336.2 494.6,325.5 495.0,345.6 495.3,330.3 495.7,325.5 496.0,354.5 496.4,334.4 496.7,324.4 497.1,350.0 497.4,332.3 497.8,344.5 498.1,329.0 498.5,293.0 498.8,323.9 499.2,323.3 499.5,332.2 499.9,340.7 500.2,348.5 500.6,360.2 500.9,332.0 501.3,349.5 501.6,336.3 502.0,339.7 502.3,326.9 502.7,327.2 503.0,333.3 503.4,330.5 503.7,341.0 504.1,334.6 504.4,350.9 504.8,342.0 505.1,343.1 505.5,349.7 505.8,345.4 506.2,339.5 506.5,337.8 506.9,338.1 507.2,349.6 507.6,347.2 507.9,344.3 508.3,348.7 508.6,337.1 509.0,344.8 509.3,329.4 509.7,352.7 510.0,341.3 510.4,341.2 510.7,345.2 511.1,340.6 511.4,319.9 511.8,349.9 512.1,340.2 512.5,333.1 512.8,343.4 513.2,326.6 513.5,355.7 513.9,338.6 514.2,339.5 514.6,359.1 514.9,336.1 515.3,341.1 515.6,346.1 516.0,350.4 516.3,354.0 516.7,338.9 517.0,339.5 517.4,350.5 517.7,342.9 518.1,345.9 518.4,344.4 518.8,331.9 519.1,334.4 519.5,306.3 519.8,339.1 520.2,351.9 520.5,329.8 520.9,349.9 521.2,348.2 521.6,339.0 521.9,339.5 522.3,340.1 522.6,331.4 523.0,337.2 523.3,339.3 523.7,344.8 524.0,349.4 524.4,335.9 524.7,349.8 525.1,337.2 525.4,341.3 525.8,345.2 526.1,340.0 526.5,338.7 526.8,341.6 527.2,335.2 527.5,335.8 527.9,340.8 528.2,349.2 528.6,341.0 528.9,356.4 529.3,341.2 529.6,319.8 530.0,333.5 530.3,351.4 530.7,337.2 531.0,331.9 531.4,328.3 531.7,346.9 532.1,344.4 532.4,343.5 532.8,340.8 533.1,352.5 533.5,347.7 533.8,330.1 534.2,346.8 534.5,340.6 534.9,337.4 535.2,346.3 535.6,339.8 535.9,319.8 536.3,354.3 536.6,350.5 537.0,340.8 537.3,338.6 537.7,343.0 538.0,329.5 538.4,342.1 538.7,338.8 539.1,336.8 539.4,331.2 539.8,332.7 540.1,345.4 540.5,328.2 540.8,340.4 541.2,334.9 541.5,326.7 541.9,340.5 542.2,347.3 542.6,319.8 542.9,342.8 543.3,319.8 543.6,329.7 544.0,337.5 544.3,323.3 544.7,324.8 545.0,340.0 545.4,345.6 545.7,331.3 546.1,347.4 546.4,329.4 546.8,350.9 547.1,291.0 547.5,340.5 547.8,344.1 548.2,342.7 548.5,356.5 548.9,360.2 549.2,347.7 549.6,341.8 549.9,332.7 550.3,336.0 550.6,342.7 551.0,341.5 551.3,340.6 551.7,340.5 552.0,345.5 552.4,330.2 552.7,333.4 553.1,353.1 553.4,350.7 553.8,340.1 554.1,354.7 554.5,338.6 554.8,341.8 555.2,326.8 555.5,351.1 555.9,342.6 556.2,351.8 556.6,347.8 556.9,344.4 557.3,344.8 557.6,354.3 558.0,342.6 558.3,343.7 558.7,345.4 559.0,350.8 559.4,351.5 559.7,360.2 560.1,343.0 560.4,353.3 560.8,335.8 561.1,346.1 561.5,341.4 561.8,355.1 562.2,346.6 562.5,335.6 562.9,345.4 563.2,344.2 563.6,338.3 563.9,336.1 564.3,331.3 564.6,360.2 565.0,336.2 565.3,342.9 565.7,323.3 566.0,323.2 566.4,333.2 566.7,332.9 567.1,341.6 567.4,327.2 567.8,341.9 568.1,349.4 568.5,329.0 568.8,344.5 569.2,329.3 569.5,342.2 569.9,341.4 570.2,352.7 570.6,332.8 570.9,342.8 571.3,349.5 571.6,330.7 572.0,343.0 572.3,337.0 572.7,339.0 573.0,351.7 573.4,351.3 573.7,360.2 574.1,357.2 574.4,346.6 574.8,343.3 575.1,343.3 575.5,346.3 575.8,324.7 576.2,358.8 576.5,337.9 576.9,336.4 577.2,341.0 577.6,354.2 577.9,288.0 578.3,343.6 578.6,351.1 579.0,346.3 579.3,337.5 579.7,347.8 580.0,346.6 580.4,330.8 580.7,351.4 581.1,328.8 581.4,344.1 581.8,332.5 582.1,334.0 582.5,334.7 582.8,347.7 583.2,330.5 583.5,340.1 583.9,354.2 584.2,334.2 584.6,336.4 584.9,341.0 585.3,329.9 585.6,337.4 586.0,328.4 586.3,339.5 586.7,334.9 587.0,326.9 587.4,349.2 587.7,337.3 588.1,335.4 588.4,330.7 588.8,335.1 589.1,338.3 589.5,340.4 589.8,349.3 590.2,328.2 590.5,337.4 590.9,350.0 591.2,343.2 591.6,346.4 591.9,356.2 592.3,345.7 592.6,347.9 593.0,344.7 593.3,360.2 593.7,353.0 594.0,337.1 594.4,346.9 594.7,331.4 595.1,350.8 595.4,347.2 595.8,339.4 596.1,336.7 596.5,325.2 596.8,345.9 597.2,338.8 597.5,336.0 597.9,345.4 598.2,331.1 598.6,330.8 598.9,329.7 599.3,322.9 599.6,355.1 600.0,332.5 600.3,331.6 600.7,342.8 601.0,319.8 601.4,334.5 601.7,335.5 602.1,327.5 602.4,340.6 602.8,319.9 603.1,338.4 603.5,346.4 603.8,319.8 604.2,324.5 604.5,335.4 604.9,336.2 605.2,332.2 605.6,341.8 605.9,342.6 606.3,329.5 606.6,286.8 607.0,285.4 607.3,284.6 607.7,284.6 608.0,288.1 608.4,286.6 608.7,289.0 609.1,285.1 609.4,286.0 609.8,286.8 610.1,286.3 610.5,287.0 610.8,286.7 611.2,285.9 611.5,284.6 611.9,285.5 612.2,288.6 612.6,287.6 612.9,288.2 613.3,286.2 613.6,286.9 614.0,286.0 614.3,343.1 614.7,342.2 615.0,344.4 615.4,356.0 615.7,334.7 616.1,347.9 616.4,331.2 616.8,352.1 617.1,339.0 617.5,343.7 617.8,346.3 618.2,358.6 618.5,344.1 618.9,339.2 619.2,332.3 619.6,343.3 619.9,333.8 620.3,337.3 620.6,341.6 621.0,347.9 621.3,335.9 621.7,346.7 622.0,356.0 622.4,329.6 622.7,353.1 623.1,359.3 623.4,335.1 623.8,345.9 624.1,312.3 624.5,343.5 624.8,336.9 625.2,341.7 625.5,332.4 625.9,334.5 626.2,339.0 626.6,336.5 626.9,336.1 627.3,339.5 627.6,331.7 628.0,341.4 628.3,346.9 628.7,324.0 629.0,345.7 629.4,335.5 629.7,332.7 630.1,331.5 630.4,336.0 630.8,337.4 631.1,344.4 631.5,329.7 631.8,349.9 632.2,334.5 632.5,346.7 632.9,299.0 633.2,328.9 633.6,349.0 633.9,359.1 634.3,334.8 634.6,342.7 635.0,335.5 635.3,337.0 635.7,334.3 636.0,331.9 636.4,342.5 636.7,344.8 637.1,337.8 637.4,350.6 637.8,345.5 638.1,344.2 638.5,331.5 638.8,352.3 639.2,348.1 639.5,319.8 639.9,328.4 640.2,333.9 640.6,347.6 640.9,350.8 641.3,338.2 641.6,342.6 642.0,347.1 642.3,330.3 642.7,346.1 643.0,338.9 643.4,343.7 643.7,341.4 644.1,331.4 644.4,332.5 644.8,341.9 645.1,342.0 645.5,338.9 645.8,351.5 646.2,338.7 646.5,330.1 646.9,338.4 647.2,339.9 647.6,338.8 647.9,350.1 648.3,345.2 648.6,349.2 649.0,345.5 649.3,339.0 649.7,348.8 650.0,337.4 650.4,341.9 650.7,329.2 651.1,338.4 651.4,334.2 651.8,340.3 652.1,353.0 652.5,357.7 652.8,346.0 653.2,337.8 653.5,345.4 653.9,339.2 654.2,331.2 654.6,336.8 654.9,335.9 655.3,332.4 655.6,350.6 656.0,333.3 656.3,333.8 656.7,344.4 657.0,331.4 657.4,327.6 657.7,331.5 658.1,341.1 658.4,340.9 658.8,340.5 659.1,333.6 659.5,330.1 659.8,345.2 660.2,324.5 660.5,334.5 660.9,325.0 661.2,332.9 661.6,335.6 661.9,345.7 662.3,319.8 662.6,347.3 663.0,328.4 663.3,337.8 663.7,342.3 664.0,329.8 664.4,335.7 664.7,339.7 665.1,336.3 665.4,331.4 665.8,340.6 666.1,340.2 666.5,325.9 666.8,351.4 667.2,342.7 667.5,320.1 667.9,334.4 668.2,357.5 668.6,355.9 668.9,345.7 669.3,328.6 669.6,340.1 670.0,350.1 670.3,345.9 670.7,339.3 671.0,336.2 671.4,350.5 671.7,342.1 672.1,347.4 672.4,348.8 672.8,358.1 673.1,345.0 673.5,345.5 673.8,328.7 674.2,353.4 674.5,351.7 674.9,343.3 675.2,324.0 675.6,338.1 675.9,343.1 676.3,360.2 676.6,347.5 677.0,351.0 677.3,350.4 677.7,355.1 678.0,333.1 678.4,335.6 678.7,334.6 679.1,341.3 679.4,340.0 679.8,343.3 680.1,332.8 680.5,343.0 680.8,334.1 681.2,359.4 681.5,337.8 681.9,360.2 682.2,357.7 682.6,333.4 682.9,352.7 683.3,350.9 683.6,331.7 684.0,349.2 684.3,343.0 684.7,345.7 685.0,335.0 685.4,341.9 685.7,344.0 686.1,339.7 686.4,336.1 686.8,340.4 687.1,334.7 687.5,346.4 687.8,320.4 688.2,355.4 688.5,341.6 688.9,344.4 689.2,347.8 689.6,330.2 689.9,359.6 690.3,329.7 690.6,344.3 691.0,343.2 691.3,351.5 691.7,340.9 692.0,328.9 692.4,343.4 692.7,319.8 693.1,339.1 693.4,337.9 693.8,353.4 694.1,336.1 694.5,334.1 694.8,331.7 695.2,330.7 695.5,334.3 695.9,343.9 696.2,326.8 696.6,336.1 696.9,326.4 697.3,337.3 697.6,341.1 698.0,330.8 698.3,336.5 698.7,342.9 699.0,350.5 699.4,350.9 699.7,343.0 700.1,335.2 700.4,328.6 700.8,350.7 701.1,357.3 701.5,348.1 701.8,360.2 702.2,342.7 702.5,328.9 702.9,351.4 703.2,338.8 703.6,353.0 703.9,349.7 704.3,348.5 704.6,360.2 705.0,336.8 705.3,340.7 705.7,326.5 706.0,334.4 706.4,338.8 706.7,340.4 707.1,342.2 707.4,346.2 707.8,338.6 708.1,325.9 708.5,344.5 708.8,345.3 709.2,331.4 709.5,333.2 709.9,353.9 710.2,348.0 710.6,349.4 710.9,346.6 711.3,342.5 711.6,337.0 712.0,346.0 712.3,340.8 712.7,328.3 713.0,343.0 713.4,342.8 713.7,350.1 714.1,332.5 714.4,360.2 714.8,332.1 715.1,338.3 715.5,350.1 715.8,333.9 716.2,336.8 716.5,340.6 716.9,319.8 717.2,336.7 717.6,331.3 717.9,337.2 718.3,342.4 718.6,342.8 719.0,352.1 719.3,350.2 719.7,345.5 720.0,336.2 720.4,346.3 720.7,329.5 721.1,337.1 721.4,351.1 721.8,345.4 722.1,326.7 722.5,333.8 722.8,348.3 723.2,346.7 723.5,352.2 723.9,327.6 724.2,332.1 724.6,341.6 724.9,335.3 725.3,344.5 725.6,345.2 726.0,347.8 726.3,343.5 726.7,350.7 727.0,352.7 727.4,346.2 727.7,333.6 728.1,356.3 728.4,345.5 728.8,346.6 729.1,344.7 729.5,329.6 729.8,349.0 730.2,337.2 730.5,331.1 730.9,351.2 731.2,338.7 731.6,342.5 731.9,347.7 732.3,354.5 732.6,325.7 733.0,333.8 733.3,347.9 733.7,335.9 734.0,319.8 734.4,342.6 734.7,343.9 735.1,349.2 735.4,343.7 735.8,339.9 736.1,344.1 736.5,341.5 736.8,337.5 737.2,345.1 737.5,346.2 737.9,335.3 738.2,352.1 738.6,352.2 738.9,335.1 739.3,320.1 739.6,343.6 740.0,341.8 740.3,331.4 740.7,344.9 741.0,328.2 741.4,351.5 741.7,344.5 742.1,336.5 742.4,288.0 742.8,345.9 743.1,345.7 743.5,331.4 743.8,346.3 744.2,353.9 744.5,350.8 744.9,330.4 745.2,352.3 745.6,352.4 745.9,346.6 746.3,336.0 746.6,327.2 747.0,332.7 747.3,337.1 747.7,345.5 748.0,346.7 748.4,335.8 748.7,328.5 749.1,340.2 749.4,331.9 749.8,354.7 750.1,332.1 750.5,347.0 750.8,350.0 751.2,334.2 751.5,352.2 751.9,342.8 752.2,337.7 752.6,336.6 752.9,345.1 753.3,353.4 753.6,328.2 754.0,348.8 754.3,342.7 754.7,336.0 755.0,342.9 755.4,344.7 755.7,343.6 756.1,349.0 756.4,333.5 756.8,358.7 757.1,349.8 757.5,309.0 757.8,324.9 758.2,341.2 758.5,337.1 758.9,347.3 759.2,347.6 759.6,359.0 759.9,340.4 760.3,347.8" fill="none" stroke="#262626" stroke-width="0.9" stroke-linejoin="bevel"/>
<polyline points="100.5,539.0 100.8,499.9 101.2,507.8 101.5,513.2 101.9,519.4 102.2,510.0 102.6,504.4 102.9,502.3 103.3,516.3 103.6,524.0 104.0,511.4 104.3,498.5 104.7,501.8 105.0,523.1 105.4,511.1 105.7,495.4 106.1,509.4 106.4,500.0 106.8,503.5 107.1,504.9 107.5,503.2 107.8,512.8 108.2,508.4 108.5,503.3 108.9,511.0 109.2,517.0 109.6,496.8 109.9,507.9 110.3,499.0 110.6,504.8 111.0,495.8 111.3,504.8 111.7,504.4 112.0,502.0 112.4,496.3 112.7,503.4 113.1,497.3 113.4,494.8 113.8,508.8 114.1,497.7 114.5,517.1 114.8,514.1 115.2,492.7 115.5,512.1 115.9,487.1 116.2,506.8 116.6,505.9 116.9,492.6 117.3,506.0 117.6,506.7 118.0,518.6 118.3,502.2 118.7,518.2 119.0,503.5 119.4,510.1 119.7,502.5 120.1,522.3 120.4,513.8 120.8,528.4 121.1,514.3 121.5,516.3 121.8,517.7 122.2,505.1 122.5,509.1 122.9,522.0 123.2,508.1 123.6,514.8 123.9,514.2 124.3,519.7 124.6,511.1 125.0,512.2 125.3,516.4 125.7,514.1 126.0,505.4 126.4,520.2 126.7,503.7 127.1,503.6 127.4,503.8 127.8,522.0 128.1,511.2 128.5,506.4 128.8,502.8 129.2,514.9 129.5,502.7 129.9,502.0 130.2,518.5 130.6,490.8 130.9,492.2 131.3,511.9 131.6,507.8 132.0,509.2 132.3,520.7 132.7,505.4 133.0,499.7 133.4,484.0 133.7,507.9 134.1,507.9 134.4,513.8 134.8,509.0 135.1,508.2 135.5,506.7 135.8,508.3 136.2,515.6 136.5,511.5 136.9,514.5 137.2,529.1 137.6,518.8 137.9,501.2 138.3,529.3 138.6,518.3 139.0,508.8 139.3,523.6 139.7,516.2 140.0,511.6 140.4,511.3 140.7,507.5 141.1,515.8 141.4,524.4 141.8,513.1 142.1,520.1 142.5,531.4 142.8,506.9 143.2,518.6 143.5,514.3 143.9,463.9 144.2,463.9 144.6,464.9 144.9,465.4 145.3,464.1 145.6,464.9 146.0,465.9 146.3,465.3 146.7,466.0 147.0,465.5 147.4,465.6 147.7,466.9 148.1,520.6 148.4,516.5 148.8,521.5 149.1,508.0 149.5,511.7 149.8,522.7 150.2,520.7 150.5,528.3 150.9,515.8 151.2,503.4 151.6,529.9 151.9,523.2 152.3,484.5 152.6,524.8 153.0,512.5 153.3,497.3 153.7,509.7 154.0,508.4 154.4,514.9 154.7,507.3 155.1,510.9 155.4,510.4 155.8,508.8 156.1,503.5 156.5,512.0 156.8,518.4 157.2,515.5 157.5,502.0 157.9,500.1 158.2,511.6 158.6,506.6 158.9,507.8 159.3,498.7 159.6,528.6 160.0,520.4 160.3,503.5 160.7,517.8 161.0,521.7 161.4,492.6 161.7,505.8 162.1,507.7 162.4,515.7 162.8,510.5 163.1,509.6 163.5,513.4 163.8,528.8 164.2,531.2 164.5,509.8 164.9,506.9 165.2,531.4 165.6,507.5 165.9,509.7 166.3,514.5 166.6,519.1 167.0,523.7 167.3,520.5 167.7,512.0 168.0,523.2 168.4,520.7 168.7,523.0 169.1,518.1 169.4,507.1 169.8,509.6 170.1,530.2 170.5,512.7 170.8,500.1 171.2,512.4 171.5,517.5 171.9,526.8 172.2,507.6 172.6,520.3 172.9,521.9 173.3,508.9 173.6,512.0 174.0,528.9 174.3,528.9 174.7,520.6 175.0,516.8 175.4,522.7 175.7,512.8 176.1,512.8 176.4,505.8 176.8,511.0 177.1,509.8 177.5,531.4 177.8,509.7 178.2,521.9 178.5,522.1 178.9,510.3 179.2,520.8 179.6,493.2 179.9,511.2 180.3,519.3 180.6,492.6 181.0,502.7 181.3,520.1 181.7,511.0 182.0,503.3 182.4,510.7 182.7,508.7 183.1,519.1 183.4,519.3 183.8,514.1 184.1,510.7 184.5,515.4 184.8,527.1 185.2,518.2 185.5,520.6 185.9,514.1 186.2,505.5 186.6,463.3 186.9,464.8 187.3,464.0 187.6,462.9 188.0,462.1 188.3,464.2 188.7,463.4 189.0,463.4 189.4,463.3 189.7,463.9 190.1,463.9 190.4,464.5 190.8,464.5 191.1,465.1 191.5,464.6 191.8,463.2 192.2,463.7 192.5,516.4 192.9,508.4 193.2,515.1 193.6,519.8 193.9,503.5 194.3,495.5 194.6,520.2 195.0,509.5 195.3,514.5 195.7,497.7 196.0,523.3 196.4,495.4 196.7,508.1 197.1,505.8 197.4,510.1 197.8,507.9 198.1,507.1 198.5,500.7 198.8,521.5 199.2,509.0 199.5,512.1 199.9,513.6 200.2,495.1 200.6,520.0 200.9,513.6 201.3,514.0 201.6,517.6 202.0,507.8 202.3,522.3 202.7,509.5 203.0,508.4 203.4,508.9 203.7,518.2 204.1,524.6 204.4,512.4 204.8,505.1 205.1,525.4 205.5,507.0 205.8,525.3 206.2,516.1 206.5,509.6 206.9,508.8 207.2,517.6 207.6,520.9 207.9,512.2 208.3,522.4 208.6,531.4 209.0,514.1 209.3,506.4 209.7,506.2 210.0,502.8 210.4,493.3 210.7,508.4 211.1,503.4 211.4,519.6 211.8,493.0 212.1,503.2 212.5,531.4 212.8,524.1 213.2,518.6 213.5,518.7 213.9,530.0 214.2,518.6 214.6,514.4 214.9,501.9 215.3,510.5 215.6,503.4 216.0,504.8 216.3,505.5 216.7,512.1 217.0,509.8 217.4,520.2 217.7,502.1 218.1,510.5 218.4,526.8 218.8,511.5 219.1,521.1 219.5,519.4 219.8,519.5 220.2,515.4 220.5,497.2 220.9,508.1 221.2,507.2 221.6,497.5 221.9,507.9 222.3,502.4 222.6,501.3 223.0,516.6 223.3,513.4 223.7,498.1 224.0,506.2 224.4,509.8 224.7,511.4 225.1,511.1 225.4,515.3 225.8,513.2 226.1,521.7 226.5,523.6 226.8,521.6 227.2,512.1 227.5,512.9 227.9,520.8 228.2,513.7 228.6,515.0 228.9,495.1 229.3,493.3 229.6,517.0 230.0,516.7 230.3,526.0 230.7,520.4 231.0,516.3 231.4,515.2 231.7,502.3 232.1,520.9 232.4,506.6 232.8,513.9 233.1,511.5 233.5,513.3 233.8,519.6 234.2,509.8 234.5,510.0 234.9,505.6 235.2,512.2 235.6,529.7 235.9,512.0 236.3,523.1 236.6,519.5 237.0,518.0 237.3,518.2 237.7,503.3 238.0,513.6 238.4,522.8 238.7,504.2 239.1,510.6 239.4,506.2 239.8,515.1 240.1,502.5 240.5,524.1 240.8,507.4 241.2,496.3 241.5,523.8 241.9,517.2 242.2,513.2 242.6,514.0 242.9,506.4 243.3,509.5 243.6,518.1 244.0,519.8 244.3,520.0 244.7,514.4 245.0,509.9 245.4,512.3 245.7,522.7 246.1,524.0 246.4,509.3 246.8,508.3 247.1,522.7 247.5,517.3 247.8,516.6 248.2,500.3 248.5,509.0 248.9,508.3 249.2,513.9 249.6,497.6 249.9,522.2 250.3,513.1 250.6,513.6 251.0,500.9 251.3,511.2 251.7,523.2 252.0,497.9 252.4,513.6 252.7,516.6 253.1,506.2 253.4,518.5 253.8,509.7 254.1,522.7 254.5,517.7 254.8,515.4 255.2,531.0 255.5,520.7 255.9,523.7 256.2,503.0 256.6,507.6 256.9,519.1 257.3,518.7 257.6,511.8 258.0,518.1 258.3,501.1 258.7,509.5 259.0,498.1 259.4,510.6 259.7,504.5 260.1,503.7 260.4,510.4 260.8,526.1 261.1,501.8 261.5,504.7 261.8,519.6 262.2,506.0 262.5,523.5 262.9,511.1 263.2,510.7 263.6,513.5 263.9,524.7 264.3,515.9 264.6,514.6 265.0,512.0 265.3,498.5 265.7,505.4 266.0,526.8 266.4,521.0 266.7,501.0 267.1,518.9 267.4,509.0 267.8,514.0 268.1,504.9 268.5,515.2 268.8,504.4 269.2,510.1 269.5,517.0 269.9,511.3 270.2,518.8 270.6,516.9 270.9,517.3 271.3,526.6 271.6,503.1 272.0,503.6 272.3,521.2 272.7,524.9 273.0,531.4 273.4,522.7 273.7,523.3 274.1,509.4 274.4,523.2 274.8,523.4 275.1,508.2 275.5,510.2 275.8,518.1 276.2,519.0 276.5,492.6 276.9,517.3 277.2,517.3 277.6,513.4 277.9,517.6 278.3,518.0 278.6,505.8 279.0,516.3 279.3,511.7 279.7,505.6 280.0,515.3 280.4,525.4 280.7,501.4 281.1,499.9 281.4,498.8 281.8,529.8 282.1,511.0 282.5,512.5 282.8,505.7 283.2,505.8 283.5,496.2 283.9,513.8 284.2,517.3 284.6,499.3 284.9,506.7 285.3,511.1 285.6,518.1 286.0,519.3 286.3,526.3 286.7,528.0 287.0,525.2 287.4,527.6 287.7,505.8 288.1,510.8 288.4,523.9 288.8,514.5 289.1,512.9 289.5,496.3 289.8,498.5 290.2,520.2 290.5,516.3 290.9,511.6 291.2,509.0 291.6,498.8 291.9,515.9 292.3,519.0 292.6,522.8 293.0,510.2 293.3,507.0 293.7,498.6 294.0,517.8 294.4,521.4 294.7,502.0 295.1,509.6 295.4,509.3 295.8,505.2 296.1,492.6 296.5,506.0 296.8,512.0 297.2,494.5 297.5,500.2 297.9,492.6 298.2,515.9 298.6,508.3 298.9,506.0 299.3,504.8 299.6,502.0 300.0,508.0 300.3,507.1 300.7,508.0 301.0,511.0 301.4,511.8 301.7,524.2 302.1,499.0 302.4,513.6 302.8,505.3 303.1,500.0 303.5,492.6 303.8,516.4 304.2,503.8 304.5,505.2 304.9,516.6 305.2,504.5 305.6,513.7 305.9,510.7 306.3,518.6 306.6,519.6 307.0,503.1 307.3,518.4 307.7,509.8 308.0,511.7 308.4,510.8 308.7,519.9 309.1,503.7 309.4,515.9 309.8,524.0 310.1,513.0 310.5,531.4 310.8,510.0 311.2,518.0 311.5,512.3 311.9,509.5 312.2,505.2 312.6,510.0 312.9,516.2 313.3,509.7 313.6,524.8 314.0,530.8 314.3,505.3 314.7,525.3 315.0,518.8 315.4,516.9 315.7,531.4 316.1,524.8 316.4,515.6 316.8,514.0 317.1,494.8 317.5,519.1 317.8,506.7 318.2,513.0 318.5,512.0 318.9,520.9 319.2,529.9 319.6,521.2 319.9,521.6 320.3,509.0 320.6,513.8 321.0,515.2 321.3,495.6 321.7,525.6 322.0,502.6 322.4,499.0 322.7,521.6 323.1,525.3 323.4,503.4 323.8,503.7 324.1,531.4 324.5,509.1 324.8,492.6 325.2,504.7 325.5,526.5 325.9,513.3 326.2,514.4 326.6,518.5 326.9,515.0 327.3,505.9 327.6,496.1 328.0,514.3 328.3,501.6 328.7,508.0 329.0,524.0 329.4,513.4 329.7,511.8 330.1,510.8 330.4,515.7 330.8,518.2 331.1,499.1 331.5,511.2 331.8,524.2 332.2,514.8 332.5,503.5 332.9,506.0 333.2,494.3 333.6,504.8 333.9,524.8 334.3,511.4 334.6,505.8 335.0,507.3 335.3,512.0 335.7,512.9 336.0,511.1 336.4,506.6 336.7,517.5 337.1,525.6 337.4,474.0 337.8,509.0 338.1,525.9 338.5,504.5 338.8,511.8 339.2,512.4 339.5,515.2 339.9,510.8 340.2,505.1 340.6,514.7 340.9,502.5 341.3,497.4 341.6,494.2 342.0,517.5 342.3,495.9 342.7,514.4 343.0,517.3 343.4,519.9 343.7,510.9 344.1,506.1 344.4,511.8 344.8,505.9 345.1,498.8 345.5,520.2 345.8,503.7 346.2,526.2 346.5,516.1 346.9,509.3 347.2,517.3 347.6,523.2 347.9,502.0 348.3,507.3 348.6,505.6 349.0,514.4 349.3,516.0 349.7,513.5 350.0,506.1 350.4,507.9 350.7,522.4 351.1,523.3 351.4,514.8 351.8,502.2 352.1,517.5 352.5,513.0 352.8,512.5 353.2,526.1 353.5,518.9 353.9,502.9 354.2,503.0 354.6,522.1 354.9,511.0 355.3,515.0 355.6,507.4 356.0,501.0 356.3,513.0 356.7,523.3 357.0,512.0 357.4,500.0 357.7,507.2 358.1,505.4 358.4,510.2 358.8,518.6 359.1,527.1 359.5,512.5 359.8,506.1 360.2,510.3 360.5,509.6 360.9,507.8 361.2,509.7 361.6,511.1 361.9,501.3 362.3,516.8 362.6,508.3 363.0,504.6 363.3,515.3 363.7,507.7 364.0,527.0 364.4,516.1 364.7,512.3 365.1,505.2 365.4,508.5 365.8,517.9 366.1,504.4 366.5,515.3 366.8,492.6 367.2,511.7 367.5,517.3 367.9,511.9 368.2,510.5 368.6,518.9 368.9,503.6 369.3,501.2 369.6,510.9 370.0,518.3 370.3,513.0 370.7,506.7 371.0,510.3 371.4,512.4 371.7,498.6 372.1,492.6 372.4,502.7 372.8,498.1 373.1,506.0 373.5,502.5 373.8,504.2 374.2,514.8 374.5,512.2 374.9,510.8 375.2,525.2 375.6,508.4 375.9,509.6 376.3,523.3 376.6,461.4 377.0,460.9 377.3,464.3 377.7,463.3 378.0,463.6 378.4,463.5 378.7,463.9 379.1,462.2 379.4,462.5 379.8,461.5 380.1,463.2 380.5,517.9 380.8,493.1 381.2,521.6 381.5,531.4 381.9,506.1 382.2,522.7 382.6,522.8 382.9,523.3 383.3,506.8 383.6,525.2 384.0,522.1 384.3,515.4 384.7,513.9 385.0,519.7 385.4,527.4 385.7,526.2 386.1,531.4 386.4,517.2 386.8,525.4 387.1,516.4 387.5,525.2 387.8,520.1 388.2,513.5 388.5,508.4 388.9,514.3 389.2,521.4 389.6,529.9" fill="none" stroke="#262626" stroke-width="0.9" stroke-linejoin="bevel"/>
<polyline points="472.0,508.3 472.4,513.1 472.7,487.4 473.1,496.6 473.4,505.7 473.8,496.6 474.1,501.9 474.5,507.4 474.8,497.9 475.2,500.6 475.5,497.8 475.9,489.0 476.2,492.3 476.6,502.4 476.9,495.8 477.3,508.4 477.6,509.8 478.0,513.6 478.3,500.1 478.7,512.4 479.0,495.2 479.4,496.6 479.7,504.5 480.1,506.5 480.4,490.8 480.8,490.5 481.1,506.9 481.5,498.8 481.8,514.8 482.2,507.5 482.5,506.8 482.9,506.6 483.2,511.1 483.6,502.5 483.9,511.4 484.3,500.4 484.6,502.0 485.0,499.3 485.3,509.8 485.7,504.7 486.0,496.3 486.4,518.8 486.7,500.3 487.1,503.1 487.4,508.3 487.8,519.7 488.1,505.3 488.5,512.1 488.8,507.7 489.2,496.1 489.5,513.5 489.9,514.1 490.2,505.1 490.6,507.8 490.9,496.8 491.3,496.4 491.6,504.4 492.0,510.9 492.3,502.1 492.7,508.2 493.0,514.9 493.4,507.9 493.7,512.0 494.1,519.1 494.4,497.8 494.8,512.1 495.1,491.8 495.5,509.3 495.8,507.1 496.2,501.1 496.5,497.6 496.9,506.2 497.2,503.6 497.6,506.7 497.9,498.1 498.3,509.0 498.6,497.7 499.0,504.0 499.3,504.2 499.7,517.1 500.0,496.6 500.4,504.3 500.7,516.3 501.1,501.8 501.4,496.9 501.8,507.9 502.1,502.9 502.5,511.1 502.8,498.3 503.2,507.9 503.5,510.9 503.9,513.1 504.2,496.7 504.6,515.4 504.9,498.2 505.3,493.0 505.6,497.0 506.0,504.8 506.3,500.4 506.7,507.2 507.0,507.5 507.4,507.8 507.7,503.3 508.1,518.9 508.4,488.8 508.8,493.2 509.1,501.8 509.5,496.1 509.8,487.4 510.2,497.5 510.5,496.9 510.9,487.4 511.2,508.3 511.6,512.3 511.9,511.0 512.3,498.3 512.6,503.4 513.0,495.4 513.3,505.9 513.7,498.7 514.0,505.9 514.4,498.7 514.7,508.7 515.1,506.7 515.4,510.6 515.8,488.8 516.1,489.0 516.5,505.9 516.8,499.0 517.2,506.5 517.5,506.2 517.9,506.2 518.2,511.6 518.6,509.6 518.9,509.4 519.3,498.6 519.6,519.4 520.0,505.1 520.3,512.0 520.7,505.9 521.0,513.8 521.4,504.7 521.7,506.8 522.1,506.4 522.4,498.6 522.8,500.3 523.1,502.5 523.5,502.7 523.8,496.4 524.2,521.9 524.5,496.7 524.9,501.4 525.2,522.6 525.6,498.1 525.9,510.3 526.3,510.2 526.6,501.8 527.0,493.5 527.3,493.2 527.7,505.4 528.0,508.8 528.4,490.5 528.7,506.7 529.1,501.3 529.4,512.6 529.8,463.8 530.1,462.8 530.5,463.3 530.8,463.7 531.2,465.3 531.5,465.9 531.9,464.3 532.2,464.0 532.6,464.8 532.9,464.0 533.3,464.8 533.6,464.8 534.0,464.5 534.3,463.6 534.7,464.5 535.0,465.3 535.4,464.3 535.7,465.9 536.1,465.4 536.4,464.2 536.8,465.9 537.1,462.8 537.5,465.4 537.8,465.9 538.2,463.7 538.5,464.0 538.9,465.0 539.2,465.6 539.6,464.4 539.9,464.2 540.3,464.8 540.6,463.8 541.0,462.0 541.3,463.0 541.7,463.4 542.0,461.6 542.4,463.9 542.7,462.8 543.1,464.4 543.4,462.1 543.8,462.9 544.1,462.5 544.5,465.6 544.8,465.6 545.2,465.9 545.5,465.9 545.9,465.4 546.2,465.5 546.6,497.9 546.9,514.2 547.3,508.3 547.6,509.9 548.0,503.2 548.3,522.6 548.7,514.4 549.0,501.9 549.4,514.7 549.7,509.1 550.1,500.8 550.4,505.6 550.8,501.6 551.1,490.1 551.5,495.5 551.8,510.6 552.2,507.9 552.5,508.2 552.9,496.9 553.2,499.3 553.6,504.7 553.9,508.6 554.3,497.4 554.6,495.9 555.0,511.9 555.3,503.1 555.7,500.9 556.0,497.9 556.4,497.7 556.7,514.5 557.1,509.9 557.4,500.2 557.8,492.8 558.1,513.9 558.5,513.5 558.8,511.2 559.2,508.9 559.5,487.4 559.9,492.5 560.2,507.1 560.6,500.4 560.9,504.4 561.3,499.3 561.6,498.9 562.0,508.6 562.3,501.3 562.7,502.9 563.0,504.7 563.4,505.6 563.7,513.5 564.1,515.1 564.4,494.0 564.8,503.4 565.1,499.8 565.5,509.7 565.8,495.0 566.2,509.4 566.5,508.1 566.9,506.4 567.2,494.8 567.6,500.3 567.9,493.7 568.3,503.8 568.6,507.3 569.0,489.6 569.3,493.8 569.7,499.9 570.0,497.7 570.4,512.7 570.7,481.0 571.1,505.2 571.4,494.2 571.8,515.0 572.1,505.4 572.5,510.7 572.8,505.1 573.2,487.7 573.5,492.2 573.9,494.6 574.2,508.8 574.6,501.3 574.9,508.8 575.3,507.3 575.6,506.2 576.0,510.4 576.3,505.7 576.7,492.1 577.0,499.5 577.4,517.4 577.7,496.2 578.1,513.5 578.4,515.6 578.8,497.3 579.1,504.5 579.5,490.6 579.8,508.4 580.2,497.0 580.5,493.8 580.9,499.9 581.2,498.9 581.6,498.3 581.9,504.7 582.3,502.5 582.6,498.8 583.0,510.7 583.3,521.6 583.7,502.8 584.0,496.3 584.4,493.8 584.7,507.3 585.1,501.0 585.4,503.6 585.8,488.6 586.1,495.3 586.5,495.6 586.8,511.9 587.2,501.9 587.5,487.4 587.9,508.1 588.2,513.6 588.6,514.0 588.9,487.4 589.3,487.4 589.6,509.7 590.0,508.9 590.3,502.9 590.7,491.6 591.0,502.1 591.4,504.4 591.7,510.1 592.1,510.8 592.4,504.4 592.8,512.5 593.1,481.0 593.5,464.0 593.8,507.0 594.2,512.7 594.5,506.6 594.9,517.5 595.2,510.8 595.6,500.9 595.9,507.2 596.3,499.9 596.6,500.8 597.0,497.1 597.3,518.8 597.7,515.2 598.0,496.3 598.4,516.6 598.7,514.2 599.1,504.6 599.4,510.9 599.8,522.6 600.1,507.9 600.5,508.7 600.8,513.6 601.2,496.4 601.5,493.3 601.9,491.9 602.2,502.4 602.6,509.3 602.9,497.4 603.3,494.6 603.6,505.2 604.0,500.5 604.3,508.3 604.7,503.1 605.0,502.3 605.4,503.0 605.7,505.8 606.1,496.3 606.4,495.5 606.8,515.8 607.1,522.6 607.5,512.9 607.8,492.7 608.2,504.6 608.5,514.6 608.9,494.7 609.2,503.1 609.6,503.3 609.9,499.9 610.3,499.5 610.6,494.2 611.0,503.4 611.3,504.0 611.7,518.9 612.0,499.2 612.4,490.2 612.7,507.5 613.1,519.4 613.4,505.7 613.8,505.4 614.1,493.7 614.5,496.7 614.8,515.7 615.2,514.3 615.5,509.0 615.9,498.7 616.2,495.5 616.6,497.7 616.9,495.1 617.3,508.9 617.6,497.8 618.0,480.3 618.3,509.2 618.7,508.5 619.0,471.0 619.4,507.6 619.7,505.8 620.1,491.3 620.4,505.1 620.8,502.7 621.1,503.2 621.5,507.6 621.8,499.6 622.2,514.3 622.5,503.1 622.9,506.7 623.2,507.2 623.6,503.6 623.9,510.3 624.3,511.0 624.6,509.8 625.0,499.9 625.3,497.5 625.7,500.5 626.0,505.2 626.4,492.1 626.7,499.6 627.1,496.2 627.4,482.1 627.8,499.2 628.1,511.9 628.5,509.3 628.8,513.7 629.2,498.1 629.5,500.1 629.9,503.1 630.2,517.5 630.6,517.3 630.9,500.4 631.3,509.8 631.6,521.5 632.0,496.8 632.3,503.8 632.7,514.1 633.0,510.2 633.4,496.6 633.7,515.9 634.1,512.4 634.4,509.1 634.8,494.2 635.1,503.0 635.5,514.3 635.8,507.4 636.2,510.4 636.5,501.8 636.9,515.3 637.2,502.4 637.6,511.4 637.9,507.1 638.3,497.3 638.6,516.4 639.0,495.7 639.3,499.7 639.7,506.5 640.0,494.9 640.4,491.3 640.7,502.3 641.1,500.4 641.4,502.2 641.8,506.9 642.1,520.2 642.5,500.3 642.8,522.6 643.2,506.7 643.5,504.6 643.9,487.4 644.2,494.0 644.6,507.8 644.9,510.3 645.3,499.6 645.6,508.6 646.0,514.1 646.3,503.5 646.7,494.9 647.0,501.1 647.4,506.5 647.7,512.1 648.1,515.6 648.4,501.3 648.8,510.6 649.1,508.0 649.5,509.8 649.8,517.6 650.2,517.8 650.5,504.2 650.9,504.2 651.2,502.1 651.6,503.3 651.9,503.8 652.3,506.6 652.6,503.1 653.0,498.9 653.3,498.2 653.7,508.5 654.0,522.6 654.4,511.9 654.7,512.2 655.1,510.1 655.4,506.9 655.8,522.6 656.1,505.2 656.5,500.8 656.8,499.3 657.2,511.4 657.5,502.2 657.9,502.7 658.2,502.6 658.6,498.6 658.9,508.4 659.3,494.0 659.6,522.6 660.0,487.4 660.3,496.6 660.7,507.9 661.0,509.9 661.4,504.5 661.7,510.5 662.1,508.8 662.4,509.0 662.8,511.9 663.1,509.5 663.5,506.7 663.8,506.1 664.2,514.5 664.5,507.1 664.9,513.1 665.2,522.4 665.6,514.5 665.9,522.2 666.3,510.0 666.6,516.4 667.0,516.9 667.3,513.6 667.7,514.9 668.0,522.6 668.4,508.5 668.7,504.2 669.1,512.5 669.4,498.4 669.8,510.6 670.1,518.5 670.5,509.1 670.8,513.6 671.2,509.9 671.5,515.2 671.9,509.3 672.2,506.3 672.6,487.4 672.9,499.9 673.3,508.6 673.6,500.9 674.0,498.0 674.3,511.2 674.7,497.1 675.0,500.8 675.4,508.9 675.7,500.4 676.1,505.3 676.4,503.3 676.8,492.9 677.1,498.6 677.5,498.2 677.8,495.9 678.2,510.8 678.5,502.7 678.9,497.5 679.2,491.1 679.6,500.1 679.9,511.6 680.3,499.7 680.6,508.4 681.0,505.4 681.3,497.6 681.7,494.6 682.0,505.6 682.4,488.2 682.7,506.3 683.1,492.8 683.4,509.3 683.8,501.3 684.1,505.2 684.5,514.6 684.8,499.0 685.2,507.4 685.5,503.6 685.9,511.7 686.2,514.0 686.6,509.7 686.9,509.5 687.3,503.1 687.6,511.0 688.0,505.2 688.3,508.2 688.7,509.6 689.0,498.3 689.4,499.9 689.7,509.7 690.1,507.2 690.4,515.7 690.8,487.1 691.1,506.6 691.5,513.6 691.8,505.6 692.2,509.4 692.5,505.3 692.9,503.6 693.2,510.4 693.6,495.9 693.9,489.0 694.3,510.8 694.6,508.9 695.0,508.1 695.3,509.2 695.7,511.7 696.0,503.0 696.4,510.4 696.7,508.7 697.1,498.9 697.4,508.0 697.8,463.0 698.1,502.6 698.5,517.3 698.8,506.8 699.2,515.8 699.5,518.7 699.9,497.5 700.2,499.1 700.6,511.5 700.9,505.4 701.3,511.3 701.6,519.4 702.0,500.8 702.3,511.4 702.7,502.1 703.0,499.3 703.4,508.2 703.7,507.3 704.1,513.1 704.4,508.1 704.8,511.7 705.1,509.3 705.5,491.7 705.8,501.3 706.2,501.7 706.5,512.0 706.9,495.8 707.2,505.3 707.6,501.0 707.9,489.9 708.3,501.6 708.6,507.7 709.0,503.1 709.3,512.6 709.7,508.4 710.0,508.1 710.4,501.1 710.7,503.1 711.1,508.7 711.4,504.2 711.8,494.8 712.1,502.5 712.5,506.8 712.8,514.1 713.2,513.6 713.5,500.7 713.9,513.7 714.2,495.5 714.6,502.5 714.9,503.0 715.3,520.3 715.6,513.6 716.0,459.0 716.3,501.3 716.7,515.3 717.0,504.3 717.4,510.9 717.7,515.9 718.1,504.7 718.4,510.6 718.8,492.2 719.1,512.3 719.5,494.4 719.8,509.1 720.2,506.7 720.5,507.0 720.9,520.4 721.2,485.9 721.6,506.8 721.9,499.0 722.3,508.5 722.6,505.1 723.0,504.3 723.3,498.5 723.7,497.0 724.0,504.4 724.4,489.6 724.7,509.0 725.1,497.9 725.4,506.9 725.8,493.9 726.1,507.3 726.5,502.4 726.8,510.4 727.2,514.1 727.5,501.6 727.9,507.8 728.2,509.4 728.6,518.9 728.9,498.8 729.3,512.8 729.6,508.6 730.0,499.1 730.3,507.9 730.7,505.0 731.0,519.4 731.4,503.0 731.7,519.0 732.1,506.4 732.4,514.4 732.8,496.0 733.1,501.3 733.5,508.2 733.8,499.7 734.2,494.5 734.5,505.1 734.9,510.0 735.2,503.1 735.6,502.1 735.9,506.4 736.3,499.7 736.6,510.1 737.0,512.9 737.3,494.6 737.7,512.3 738.0,497.3 738.4,506.1 738.7,509.0 739.1,514.0 739.4,516.1 739.8,514.2 740.1,500.6 740.5,512.9 740.8,490.1 741.2,510.3 741.5,509.5 741.9,511.6 742.2,496.8 742.6,514.9 742.9,514.1 743.3,506.5 743.6,493.3 744.0,505.6 744.3,496.6 744.7,490.9 745.0,498.7 745.4,520.1 745.7,490.8 746.1,499.4 746.4,504.6 746.8,511.1 747.1,497.6 747.5,497.9 747.8,501.5 748.2,506.2 748.5,513.7 748.9,495.7 749.2,504.1 749.6,511.4 749.9,504.1 750.3,494.1 750.6,503.9 751.0,487.7 751.3,495.6 751.7,508.3 752.0,508.4 752.4,503.7 752.7,507.3 753.1,491.0 753.4,497.6 753.8,509.5 754.1,517.7 754.5,502.8 754.8,493.8 755.2,493.0 755.5,509.6 755.9,509.1 756.2,491.4 756.6,501.4 756.9,511.3 757.3,512.1 757.6,497.8 758.0,500.8 758.3,506.5 758.7,493.4 759.0,489.8 759.4,498.4 759.7,512.3 760.1,512.7 760.4,507.6" fill="none" stroke="#262626" stroke-width="0.9" stroke-linejoin="bevel"/>
<polyline points="101.2,772.7 101.5,773.3 101.9,771.6 102.2,769.9 102.6,770.9 102.9,769.3 103.3,772.1 103.6,775.2 104.0,769.8 104.3,769.4 104.7,772.5 105.0,772.2 105.4,771.0 105.7,768.2 106.1,770.9 106.4,772.8 106.8,766.6 107.1,769.1 107.5,766.3 107.8,767.1 108.2,766.3 108.5,769.6 108.9,767.2 109.2,771.5 109.6,771.6 109.9,770.8 110.3,766.3 110.6,770.4 111.0,772.0 111.3,773.1 111.7,768.6 112.0,771.5 112.4,770.5 112.7,771.1 113.1,776.3 113.4,771.0 113.8,772.8 114.1,775.4 114.5,771.2 114.8,772.7 115.2,773.8 115.5,773.9 115.9,770.2 116.2,773.5 116.6,777.0 116.9,769.5 117.3,776.1 117.6,774.3 118.0,772.2 118.3,778.7 118.7,775.6 119.0,770.3 119.4,773.9 119.7,775.4 120.1,772.9 120.4,775.5 120.8,773.7 121.1,775.8 121.5,777.9 121.8,754.8 122.2,756.5 122.5,755.1 122.9,756.2 123.2,753.3 123.6,754.7 123.9,755.0 124.3,757.4 124.6,757.7 125.0,752.3 125.3,753.6 125.7,757.3 126.0,751.3 126.4,754.8 126.7,755.6 127.1,758.7 127.4,757.7 127.8,755.2 128.1,755.2 128.5,755.5 128.8,759.9 129.2,755.6 129.5,755.6 129.9,757.3 130.2,756.4 130.6,756.1 130.9,754.3 131.3,756.7 131.6,755.5 132.0,759.1 132.3,757.7 132.7,755.8 133.0,757.5 133.4,755.2 133.7,758.3 134.1,755.8 134.4,756.8 134.8,753.0 135.1,756.3 135.5,751.9 135.8,750.7 136.2,754.4 136.5,753.4 136.9,755.8 137.2,759.9 137.6,753.1 137.9,753.6 138.3,755.8 138.6,756.8 139.0,755.1 139.3,755.1 139.7,757.0 140.0,756.6 140.4,752.9 140.7,755.1 141.1,755.4 141.4,753.0 141.8,755.7 142.1,753.3 142.5,757.2 142.8,755.8 143.2,755.7 143.5,754.1 143.9,755.4 144.2,751.5 144.6,753.9 144.9,757.0 145.3,751.3 145.6,758.0 146.0,752.4 146.3,758.2 146.7,754.4 147.0,757.9 147.4,756.5 147.7,769.6 148.1,777.6 148.4,778.1 148.8,774.0 149.1,756.3 149.5,756.6 149.8,754.7 150.2,759.0 150.5,755.2 150.9,756.0 151.2,754.4 151.6,754.3 151.9,752.8 152.3,758.5 152.6,755.2 153.0,757.3 153.3,754.6 153.7,753.3 154.0,754.4 154.4,753.9 154.7,755.0 155.1,754.2 155.4,754.4 155.8,751.8 156.1,753.1 156.5,758.9 156.8,753.4 157.2,752.9 157.5,755.9 157.9,758.5 158.2,751.7 158.6,754.7 158.9,753.9 159.3,751.3 159.6,757.0 160.0,755.5 160.3,756.0 160.7,771.0 161.0,774.7 161.4,771.8 161.7,773.3 162.1,770.6 162.4,770.2 162.8,777.2 163.1,772.0 163.5,774.1 163.8,773.2 164.2,772.1 164.5,771.6 164.9,774.7 165.2,771.8 165.6,772.1 165.9,772.5 166.3,775.4 166.6,774.2 167.0,773.4 167.3,770.4 167.7,767.8 168.0,756.2 168.4,755.9 168.7,752.9 169.1,754.5 169.4,755.0 169.8,755.3 170.1,755.2 170.5,752.1 170.8,756.5 171.2,750.7 171.5,755.5 171.9,755.0 172.2,756.3 172.6,758.5 172.9,757.6 173.3,751.8 173.6,750.7 174.0,756.4 174.3,752.4 174.7,755.3 175.0,757.1 175.4,751.7 175.7,751.0 176.1,756.0 176.4,755.6 176.8,754.8 177.1,755.4 177.5,753.4 177.8,752.3 178.2,755.6 178.5,753.5 178.9,751.5 179.2,756.3 179.6,755.2 179.9,756.3 180.3,752.9 180.6,753.8 181.0,753.0 181.3,753.2 181.7,755.2 182.0,753.1 182.4,755.6 182.7,755.0 183.1,759.0 183.4,751.3 183.8,756.6 184.1,754.9 184.5,755.3 184.8,751.4 185.2,753.6 185.5,756.7 185.9,754.9 186.2,755.2 186.6,754.1 186.9,757.3 187.3,755.0 187.6,750.7 188.0,752.6 188.3,750.7 188.7,750.7 189.0,753.4 189.4,757.8 189.7,755.2 190.1,752.5 190.4,752.8 190.8,757.4 191.1,754.7 191.5,754.3 191.8,754.3 192.2,754.2 192.5,755.7 192.9,755.4 193.2,754.8 193.6,751.9 193.9,756.0 194.3,753.4 194.6,757.6 195.0,752.5 195.3,755.5 195.7,756.0 196.0,753.0 196.4,759.9 196.7,759.2 197.1,754.6 197.4,757.7 197.8,756.9 198.1,750.7 198.5,756.6 198.8,755.6 199.2,756.1 199.5,753.4 199.9,755.1 200.2,755.4 200.6,758.7 200.9,756.5 201.3,755.4 201.6,759.1 202.0,754.3 202.3,754.2 202.7,751.0 203.0,758.5 203.4,757.4 203.7,757.3 204.1,756.7 204.4,755.4 204.8,755.4 205.1,754.5 205.5,754.5 205.8,755.5 206.2,758.7 206.5,756.3 206.9,754.8 207.2,753.1 207.6,752.9 207.9,758.1 208.3,755.6 208.6,754.4 209.0,753.4 209.3,752.0 209.7,754.3 210.0,756.6 210.4,753.7 210.7,754.5 211.1,754.8 211.4,755.7 211.8,752.0 212.1,755.1 212.5,753.8 212.8,757.3 213.2,753.7 213.5,757.0 213.9,759.3 214.2,755.4 214.6,755.2 214.9,756.7 215.3,756.1 215.6,754.0 216.0,775.2 216.3,778.7 216.7,772.9 217.0,772.9 217.4,770.0 217.7,773.1 218.1,768.6 218.4,769.0 218.8,775.3 219.1,769.1 219.5,774.7 219.8,776.2 220.2,772.6 220.5,773.6 220.9,777.1 221.2,770.9 221.6,769.6 221.9,767.2 222.3,771.1 222.6,775.1 223.0,773.5 223.3,767.9 223.7,768.2 224.0,769.3 224.4,771.9 224.7,770.3 225.1,771.3 225.4,771.3 225.8,769.8 226.1,770.6 226.5,771.4 226.8,770.7 227.2,772.4 227.5,776.4 227.9,773.5 228.2,772.5 228.6,767.6 228.9,773.8 229.3,767.3 229.6,768.9 230.0,775.0 230.3,774.8 230.7,772.3 231.0,767.9 231.4,771.3 231.7,770.7 232.1,774.3 232.4,778.7 232.8,773.8 233.1,771.0 233.5,769.8 233.8,772.5 234.2,772.3 234.5,769.4 234.9,772.8 235.2,769.4 235.6,775.4 235.9,775.0 236.3,774.9 236.6,770.1 237.0,772.9 237.3,771.3 237.7,770.8 238.0,753.8 238.4,752.0 238.7,752.0 239.1,757.1 239.4,754.6 239.8,755.3 240.1,757.1 240.5,751.0 240.8,753.5 241.2,755.9 241.5,756.6 241.9,755.0 242.2,758.0 242.6,755.9 242.9,752.9 243.3,753.7 243.6,757.8 244.0,757.4 244.3,751.8 244.7,758.9 245.0,757.7 245.4,759.4 245.7,755.3 246.1,755.8 246.4,754.2 246.8,759.9 247.1,756.0 247.5,759.8 247.8,754.4 248.2,755.9 248.5,751.5 248.9,754.4 249.2,757.3 249.6,752.3 249.9,758.0 250.3,756.2 250.6,752.9 251.0,754.0 251.3,754.2 251.7,755.2 252.0,754.0 252.4,753.1 252.7,754.1 253.1,752.4 253.4,751.7 253.8,754.4 254.1,774.5 254.5,768.0 254.8,772.9 255.2,771.1 255.5,770.5 255.9,775.3 256.2,771.6 256.6,777.5 256.9,771.0 257.3,774.6 257.6,773.2 258.0,771.6 258.3,775.1 258.7,773.3 259.0,775.3 259.4,773.9 259.7,754.3 260.1,756.7 260.4,757.2 260.8,759.4 261.1,754.8 261.5,756.6 261.8,752.1 262.2,757.9 262.5,753.6 262.9,752.1 263.2,756.2 263.6,759.0 263.9,753.1 264.3,753.8 264.6,754.5 265.0,753.8 265.3,757.3 265.7,754.4 266.0,754.5 266.4,757.5 266.7,754.1 267.1,756.7 267.4,753.1 267.8,752.6 268.1,751.5 268.5,759.9 268.8,755.5 269.2,756.3 269.5,756.0 269.9,756.1 270.2,755.9 270.6,759.8 270.9,752.5 271.3,751.2 271.6,752.5 272.0,752.1 272.3,756.8 272.7,757.1 273.0,752.8 273.4,751.8 273.7,754.8 274.1,758.7 274.4,750.7 274.8,756.5 275.1,752.9 275.5,758.2 275.8,770.1 276.2,772.9 276.5,769.4 276.9,770.8 277.2,777.5 277.6,775.6 277.9,772.8 278.3,771.7 278.6,769.0 279.0,772.9 279.3,773.9 279.7,773.6 280.0,773.6 280.4,770.4 280.7,772.8 281.1,772.6 281.4,776.1 281.8,777.9 282.1,771.8 282.5,752.6 282.8,753.8 283.2,752.4 283.5,752.1 283.9,754.1 284.2,751.4 284.6,755.2 284.9,753.8 285.3,754.5 285.6,753.4 286.0,752.3 286.3,751.7 286.7,753.3 287.0,752.6 287.4,754.4 287.7,754.0 288.1,750.9 288.4,754.2 288.8,751.2 289.1,753.2 289.5,754.1 289.8,750.7 290.2,755.4 290.5,755.2 290.9,754.1 291.2,753.8 291.6,753.9 291.9,752.1 292.3,753.6 292.6,753.2 293.0,754.6 293.3,751.4 293.7,755.3 294.0,755.1 294.4,754.6 294.7,754.0 295.1,756.7 295.4,751.9 295.8,756.4 296.1,755.9 296.5,756.0 296.8,755.7 297.2,753.7 297.5,755.0 297.9,757.4 298.2,774.2 298.6,774.0 298.9,770.0 299.3,776.1 299.6,777.7 300.0,776.7 300.3,774.9 300.7,769.0 301.0,775.8 301.4,772.6 301.7,766.3 302.1,773.3 302.4,768.1 302.8,769.3 303.1,771.3 303.5,776.7 303.8,772.9 304.2,773.9 304.5,777.8 304.9,777.2 305.2,772.4 305.6,754.6 305.9,751.8 306.3,752.9 306.6,755.7 307.0,755.7 307.3,755.1 307.7,757.4 308.0,753.4 308.4,754.8 308.7,757.0 309.1,757.1 309.4,758.3 309.8,756.4 310.1,754.7 310.5,756.1 310.8,753.0 311.2,751.7 311.5,756.8 311.9,755.3 312.2,756.3 312.6,751.7 312.9,754.7 313.3,754.0 313.6,752.9 314.0,750.7 314.3,754.0 314.7,757.0 315.0,756.1 315.4,753.8 315.7,754.8 316.1,756.0 316.4,750.7 316.8,754.4 317.1,756.0 317.5,756.3 317.8,758.7 318.2,757.1 318.5,755.5 318.9,755.2 319.2,755.9 319.6,753.5 319.9,755.1 320.3,757.2 320.6,778.0 321.0,772.2 321.3,772.7 321.7,773.1 322.0,776.0 322.4,772.6 322.7,776.9 323.1,770.6 323.4,772.7 323.8,772.8 324.1,775.2 324.5,776.0 324.8,768.2 325.2,769.9 325.5,773.4 325.9,770.6 326.2,768.8 326.6,775.4 326.9,773.3 327.3,773.5 327.6,770.6 328.0,774.7 328.3,771.4 328.7,775.5 329.0,753.2 329.4,753.1 329.7,755.5 330.1,753.3 330.4,756.5 330.8,755.7 331.1,753.2 331.5,755.4 331.8,754.8 332.2,757.7 332.5,753.8 332.9,754.3 333.2,757.8 333.6,759.9 333.9,759.9 334.3,755.5 334.6,755.9 335.0,758.7 335.3,755.1 335.7,753.2 336.0,756.1 336.4,757.1 336.7,754.4 337.1,752.5 337.4,752.9 337.8,757.7 338.1,754.1 338.5,755.7 338.8,756.9 339.2,758.0 339.5,756.1 339.9,758.4 340.2,755.2 340.6,756.5 340.9,754.8 341.3,777.7 341.6,774.5 342.0,772.7 342.3,773.5 342.7,773.8 343.0,775.7 343.4,769.6 343.7,771.1 344.1,773.1 344.4,778.7 344.8,758.2 345.1,756.1 345.5,757.8 345.8,759.9 346.2,755.1 346.5,755.2 346.9,758.2 347.2,756.9 347.6,757.3 347.9,754.8 348.3,759.9 348.6,759.9 349.0,757.5 349.3,775.8 349.7,768.2 350.0,775.7 350.4,773.0 350.7,756.9 351.1,757.6 351.4,755.2 351.8,752.3 352.1,756.6 352.5,754.2 352.8,755.4 353.2,754.2 353.5,754.3 353.9,750.7 354.2,757.7 354.6,755.7 354.9,757.5 355.3,759.0 355.6,755.0 356.0,750.9 356.3,753.0 356.7,752.3 357.0,753.9 357.4,755.2 357.7,750.7 358.1,755.9 358.4,751.9 358.8,755.8 359.1,755.1 359.5,754.4 359.8,755.3 360.2,754.7 360.5,754.4 360.9,752.0 361.2,756.0 361.6,759.9 361.9,759.9 362.3,759.2 362.6,757.5 363.0,754.1 363.3,758.4 363.7,755.1 364.0,755.1 364.4,754.7 364.7,755.5 365.1,754.3 365.4,755.1 365.8,753.2 366.1,754.9 366.5,759.9 366.8,755.4 367.2,755.1 367.5,756.9 367.9,757.4 368.2,753.1 368.6,754.7 368.9,757.3 369.3,755.9 369.6,755.5 370.0,758.7 370.3,753.8 370.7,755.4 371.0,771.1 371.4,776.3 371.7,766.7 372.1,769.8 372.4,770.2 372.8,773.3 373.1,772.8 373.5,775.0 373.8,766.9 374.2,773.1 374.5,770.3 374.9,769.3 375.2,772.9 375.6,768.9 375.9,766.3 376.3,770.1 376.6,766.8 377.0,769.3 377.3,772.1 377.7,772.0 378.0,775.3 378.4,770.6 378.7,766.9 379.1,769.1 379.4,768.7 379.8,768.0 380.1,772.8 380.5,769.8 380.8,766.3 381.2,773.1 381.5,771.0 381.9,772.4 382.2,771.3 382.6,773.2 382.9,772.0 383.3,775.4 383.6,773.4 384.0,773.3 384.3,773.4 384.7,768.0 385.0,772.2 385.4,771.9 385.7,773.0 386.1,768.7 386.4,776.9 386.8,772.4 387.1,768.8 387.5,768.0 387.8,772.0 388.2,773.0 388.5,771.3 388.9,773.4" fill="none" stroke="#262626" stroke-width="0.9" stroke-linejoin="bevel"/>
<polyline points="472.0,768.7 472.4,769.9 472.7,769.6 473.1,772.6 473.4,767.3 473.8,772.7 474.1,770.7 474.5,775.9 474.8,775.8 475.2,776.9 475.5,775.4 475.9,773.8 476.2,775.8 476.6,777.8 476.9,772.1 477.3,775.3 477.6,773.5 478.0,777.3 478.3,771.1 478.7,772.4 479.0,774.2 479.4,773.8 479.7,768.8 480.1,773.6 480.4,772.4 480.8,772.3 481.1,772.4 481.5,773.2 481.8,768.3 482.2,777.2 482.5,770.6 482.9,766.6 483.2,771.9 483.6,757.5 483.9,753.6 484.3,757.9 484.6,757.8 485.0,752.8 485.3,751.1 485.7,752.0 486.0,756.9 486.4,752.7 486.7,751.1 487.1,751.5 487.4,754.3 487.8,754.3 488.1,755.9 488.5,756.0 488.8,752.0 489.2,753.3 489.5,751.4 489.9,754.0 490.2,751.8 490.6,751.7 490.9,758.6 491.3,754.5 491.6,755.7 492.0,759.7 492.3,756.6 492.7,754.8 493.0,755.2 493.4,753.8 493.7,757.9 494.1,755.1 494.4,759.2 494.8,754.6 495.1,754.8 495.5,754.7 495.8,756.9 496.2,756.0 496.5,758.2 496.9,754.7 497.2,756.1 497.6,759.6 497.9,755.1 498.3,756.5 498.6,758.6 499.0,756.7 499.3,754.0 499.7,751.3 500.0,759.9 500.4,756.0 500.7,757.5 501.1,754.2 501.4,758.9 501.8,756.5 502.1,755.5 502.5,753.6 502.8,756.2 503.2,754.5 503.5,755.3 503.9,752.4 504.2,754.9 504.6,756.1 504.9,753.3 505.3,755.8 505.6,757.1 506.0,754.9 506.3,754.2 506.7,754.2 507.0,757.6 507.4,753.1 507.7,755.7 508.1,755.2 508.4,756.6 508.8,756.1 509.1,754.1 509.5,759.9 509.8,756.4 510.2,753.6 510.5,754.3 510.9,756.4 511.2,757.2 511.6,753.4 511.9,757.5 512.3,753.4 512.6,754.1 513.0,757.4 513.3,778.0 513.7,772.9 514.0,772.0 514.4,775.6 514.7,769.4 515.1,773.1 515.4,772.8 515.8,774.9 516.1,773.1 516.5,771.6 516.8,756.1 517.2,752.6 517.5,756.5 517.9,753.3 518.2,752.8 518.6,754.0 518.9,754.6 519.3,755.9 519.6,754.3 520.0,756.0 520.3,756.5 520.7,754.2 521.0,752.3 521.4,756.5 521.7,755.1 522.1,751.1 522.4,751.9 522.8,754.5 523.1,751.4 523.5,753.3 523.8,751.2 524.2,755.0 524.5,754.8 524.9,772.0 525.2,775.4 525.6,770.2 525.9,770.3 526.3,776.4 526.6,767.5 527.0,773.4 527.3,768.1 527.7,772.6 528.0,777.9 528.4,772.6 528.7,769.8 529.1,778.3 529.4,771.0 529.8,771.4 530.1,773.1 530.5,768.6 530.8,775.3 531.2,777.2 531.5,774.7 531.9,773.8 532.2,772.6 532.6,775.7 532.9,766.6 533.3,773.2 533.6,774.2 534.0,768.3 534.3,774.8 534.7,773.4 535.0,773.4 535.4,774.0 535.7,775.4 536.1,775.4 536.4,771.2 536.8,773.8 537.1,773.3 537.5,773.6 537.8,771.9 538.2,776.1 538.5,777.0 538.9,777.5 539.2,778.2 539.6,776.7 539.9,771.3 540.3,771.1 540.6,772.1 541.0,774.3 541.3,772.0 541.7,775.1 542.0,776.9 542.4,771.0 542.7,774.9 543.1,771.4 543.4,769.1 543.8,769.0 544.1,771.6 544.5,767.3 544.8,773.6 545.2,776.2 545.5,769.1 545.9,771.3 546.2,776.1 546.6,773.0 546.9,772.5 547.3,771.2 547.6,774.3 548.0,755.6 548.3,752.8 548.7,751.4 549.0,751.4 549.4,756.2 549.7,754.2 550.1,757.6 550.4,755.8 550.8,751.8 551.1,755.3 551.5,757.2 551.8,752.7 552.2,753.7 552.5,758.4 552.9,751.4 553.2,752.3 553.6,757.1 553.9,755.8 554.3,752.9 554.6,752.5 555.0,756.7 555.3,758.4 555.7,757.7 556.0,756.9 556.4,759.3 556.7,756.6 557.1,754.2 557.4,759.9 557.8,753.3 558.1,755.5 558.5,755.8 558.8,758.8 559.2,754.2 559.5,755.2 559.9,751.8 560.2,756.8 560.6,756.6 560.9,757.0 561.3,753.4 561.6,772.4 562.0,769.4 562.3,770.5 562.7,771.7 563.0,775.2 563.4,771.2 563.7,772.9 564.1,770.4 564.4,771.1 564.8,770.7 565.1,772.3 565.5,774.9 565.8,769.8 566.2,774.5 566.5,770.4 566.9,774.2 567.2,771.8 567.6,772.3 567.9,771.9 568.3,776.3 568.6,774.3 569.0,776.1 569.3,772.3 569.7,772.8 570.0,777.5 570.4,768.5 570.7,770.5 571.1,772.2 571.4,778.0 571.8,772.1 572.1,775.4 572.5,777.4 572.8,772.7 573.2,773.1 573.5,777.7 573.9,772.1 574.2,770.6 574.6,775.8 574.9,771.8 575.3,776.4 575.6,774.8 576.0,768.7 576.3,773.8 576.7,772.6 577.0,770.9 577.4,775.7 577.7,768.0 578.1,769.8 578.4,771.4 578.8,774.6 579.1,768.8 579.5,771.1 579.8,771.1 580.2,769.1 580.5,772.0 580.9,769.5 581.2,771.4 581.6,773.4 581.9,770.5 582.3,753.5 582.6,753.0 583.0,753.5 583.3,752.1 583.7,753.3 584.0,756.0 584.4,753.8 584.7,759.4 585.1,753.6 585.4,756.2 585.8,752.5 586.1,754.5 586.5,754.3 586.8,755.0 587.2,757.6 587.5,754.9 587.9,753.2 588.2,755.7 588.6,753.8 588.9,755.4 589.3,758.7 589.6,757.2 590.0,757.4 590.3,756.4 590.7,755.0 591.0,751.9 591.4,754.1 591.7,754.0 592.1,756.5 592.4,757.1 592.8,755.5 593.1,753.3 593.5,758.4 593.8,757.6 594.2,754.4 594.5,754.9 594.9,755.4 595.2,754.4 595.6,753.6 595.9,754.7 596.3,753.8 596.6,754.4 597.0,750.6 597.3,750.8 597.7,757.7 598.0,751.2 598.4,755.5 598.7,755.2 599.1,755.1 599.4,753.1 599.8,756.6 600.1,755.2 600.5,753.7 600.8,751.6 601.2,754.0 601.5,770.8 601.9,769.3 602.2,773.3 602.6,774.3 602.9,775.1 603.3,773.3 603.6,772.3 604.0,775.8 604.3,774.9 604.7,778.8 605.0,774.0 605.4,770.0 605.7,774.8 606.1,778.1 606.4,772.9 606.8,771.9 607.1,770.8 607.5,777.4 607.8,771.4 608.2,771.5 608.5,772.9 608.9,768.0 609.2,771.1 609.6,768.4 609.9,771.6 610.3,773.1 610.6,774.1 611.0,770.8 611.3,774.1 611.7,770.7 612.0,767.7 612.4,773.3 612.7,771.5 613.1,772.7 613.4,766.6 613.8,772.5 614.1,772.4 614.5,772.5 614.8,774.7 615.2,771.1 615.5,777.6 615.9,774.2 616.2,773.8 616.6,766.6 616.9,767.1 617.3,776.6 617.6,773.6 618.0,775.2 618.3,771.8 618.7,772.4 619.0,774.3 619.4,770.4 619.7,776.3 620.1,769.6 620.4,773.6 620.8,772.5 621.1,774.4 621.5,776.8 621.8,770.9 622.2,752.0 622.5,774.3 622.9,776.3 623.2,774.4 623.6,772.7 623.9,775.4 624.3,777.5 624.6,776.4 625.0,774.8 625.3,775.4 625.7,770.6 626.0,773.5 626.4,774.4 626.7,773.4 627.1,772.8 627.4,774.2 627.8,775.6 628.1,779.4 628.5,772.9 628.8,772.4 629.2,777.4 629.5,775.3 629.9,772.3 630.2,778.8 630.6,774.1 630.9,773.5 631.3,772.6 631.6,771.4 632.0,774.0 632.3,771.0 632.7,779.4 633.0,773.8 633.4,772.1 633.7,770.7 634.1,774.0 634.4,776.0 634.8,774.0 635.1,770.1 635.5,772.0 635.8,768.1 636.2,776.7 636.5,774.0 636.9,772.7 637.2,772.8 637.6,770.9 637.9,772.2 638.3,775.4 638.6,772.9 639.0,774.6 639.3,773.5 639.7,773.5 640.0,773.8 640.4,776.1 640.7,772.1 641.1,774.4 641.4,770.7 641.8,770.8 642.1,770.7 642.5,775.0 642.8,772.1 643.2,776.3 643.5,770.6 643.9,774.9 644.2,770.6 644.6,776.2 644.9,771.4 645.3,774.3 645.6,771.3 646.0,771.1 646.3,773.9 646.7,768.6 647.0,770.4 647.4,777.3 647.7,771.7 648.1,776.4 648.4,771.5 648.8,769.3 649.1,772.3 649.5,775.3 649.8,772.9 650.2,771.8 650.5,775.3 650.9,770.4 651.2,774.1 651.6,773.6 651.9,770.2 652.3,775.5 652.6,775.9 653.0,772.1 653.3,773.1 653.7,772.0 654.0,769.7 654.4,774.9 654.7,770.1 655.1,773.9 655.4,771.0 655.8,770.3 656.1,775.1 656.5,774.6 656.8,778.8 657.2,773.8 657.5,774.0 657.9,774.1 658.2,773.3 658.6,777.4 658.9,778.0 659.3,775.3 659.6,770.9 660.0,774.7 660.3,773.4 660.7,772.0 661.0,750.8 661.4,755.7 661.7,756.5 662.1,754.7 662.4,755.4 662.8,758.0 663.1,758.3 663.5,754.7 663.8,749.7 664.2,755.9 664.5,754.9 664.9,756.2 665.2,754.0 665.6,752.7 665.9,755.7 666.3,754.3 666.6,755.2 667.0,755.8 667.3,755.4 667.7,752.2 668.0,756.7 668.4,754.4 668.7,754.7 669.1,755.8 669.4,751.8 669.8,754.5 670.1,751.1 670.5,753.4 670.8,755.3 671.2,754.2 671.5,753.5 671.9,754.9 672.2,752.7 672.6,750.5 672.9,756.1 673.3,754.5 673.6,755.8 674.0,753.4 674.3,753.1 674.7,752.5 675.0,750.1 675.4,753.4 675.7,752.9 676.1,757.2 676.4,749.9 676.8,753.8 677.1,753.2 677.5,753.7 677.8,753.5 678.2,754.1 678.5,755.5 678.9,768.0 679.2,774.4 679.6,771.5 679.9,769.1 680.3,766.6 680.6,766.6 681.0,770.6 681.3,768.0 681.7,768.4 682.0,769.9 682.4,771.2 682.7,770.6 683.1,769.3 683.4,770.5 683.8,771.8 684.1,769.1 684.5,774.4 684.8,775.1 685.2,775.2 685.5,770.7 685.9,770.9 686.2,769.3 686.6,775.2 686.9,771.0 687.3,778.1 687.6,767.4 688.0,773.2 688.3,773.7 688.7,771.9 689.0,773.8 689.4,777.3 689.7,771.7 690.1,773.8 690.4,770.4 690.8,768.2 691.1,768.8 691.5,774.0 691.8,772.7 692.2,768.6 692.5,773.5 692.9,774.2 693.2,773.7 693.6,775.1 693.9,768.1 694.3,769.5 694.6,769.3 695.0,772.4 695.3,775.9 695.7,771.2 696.0,773.1 696.4,774.4 696.7,770.8 697.1,774.3 697.4,772.0 697.8,776.6 698.1,776.1 698.5,770.6 698.8,770.9 699.2,777.0 699.5,769.6 699.9,774.9 700.2,770.9 700.6,769.2 700.9,776.1 701.3,772.8 701.6,749.4 702.0,751.0 702.3,749.8 702.7,749.2 703.0,750.9 703.4,753.4 703.7,748.3 704.1,752.0 704.4,748.1 704.8,751.3 705.1,748.4 705.5,749.0 705.8,749.7 706.2,753.0 706.5,752.3 706.9,750.5 707.2,750.4 707.6,751.1 707.9,757.1 708.3,752.0 708.6,750.4 709.0,750.0 709.3,750.3 709.7,752.5 710.0,752.5 710.4,747.9 710.7,756.1 711.1,753.0 711.4,751.6 711.8,757.1 712.1,748.8 712.5,749.7 712.8,755.2 713.2,753.1 713.5,755.5 713.9,756.5 714.2,757.1 714.6,755.8 714.9,752.9 715.3,750.7 715.6,754.6 716.0,750.5 716.3,754.4 716.7,752.7 717.0,755.3 717.4,756.0 717.7,754.5 718.1,751.3 718.4,754.7 718.8,753.0 719.1,755.0 719.5,753.0 719.8,757.1 720.2,752.5 720.5,749.4 720.9,751.2 721.2,774.1 721.6,779.4 721.9,777.2 722.3,772.5 722.6,774.5 723.0,771.4 723.3,770.2 723.7,776.4 724.0,774.8 724.4,771.8 724.7,771.3 725.1,774.5 725.4,775.3 725.8,770.9 726.1,768.7 726.5,775.6 726.8,771.1 727.2,768.2 727.5,773.1 727.9,774.1 728.2,776.0 728.6,772.4 728.9,774.5 729.3,769.8 729.6,774.5 730.0,769.5 730.3,775.5 730.7,774.7 731.0,770.2 731.4,772.2 731.7,778.5 732.1,771.4 732.4,769.7 732.8,773.4 733.1,774.0 733.5,776.0 733.8,773.4 734.2,772.6 734.5,773.0 734.9,775.5 735.2,772.7 735.6,774.9 735.9,768.8 736.3,772.9 736.6,773.6 737.0,775.9 737.3,774.5 737.7,773.6 738.0,776.2 738.4,773.7 738.7,779.4 739.1,771.7 739.4,774.4 739.8,778.8 740.1,776.4 740.5,775.0 740.8,776.8 741.2,773.2 741.5,775.0 741.9,775.2 742.2,779.4 742.6,775.4 742.9,779.4 743.3,774.1 743.6,774.5 744.0,769.6 744.3,775.6 744.7,768.4 745.0,775.4 745.4,776.3 745.7,774.5 746.1,770.2 746.4,772.1 746.8,766.6 747.1,770.9 747.5,773.4 747.8,772.6 748.2,771.5 748.5,775.8 748.9,773.5 749.2,772.6 749.6,773.0 749.9,769.6 750.3,772.4 750.6,767.8 751.0,766.6 751.3,772.4 751.7,775.9 752.0,770.6 752.4,774.5 752.7,768.6 753.1,773.4 753.4,773.4 753.8,773.7 754.1,769.7 754.5,775.1 754.8,775.9 755.2,775.2 755.5,779.4 755.9,773.3 756.2,774.9 756.6,777.8 756.9,770.7 757.3,771.9 757.6,777.2 758.0,773.3 758.3,771.9 758.7,774.9 759.0,769.3 759.4,773.3 759.7,770.3 760.1,771.0 760.4,766.6" fill="none" stroke="#262626" stroke-width="0.9" stroke-linejoin="bevel"/>
<line x1="139.60" y1="1030.00" x2="139.60" y2="1039.40" stroke="#000" stroke-width="1.4"/>
<line x1="135.60" y1="1030.00" x2="143.60" y2="1030.00" stroke="#000" stroke-width="1.4"/>
<rect x="111.80" y="1039.40" width="55.60" height="195.60" fill="white" stroke="#000" stroke-width="1.45"/>
<line x1="205.70" y1="1181.50" x2="205.70" y2="1196.20" stroke="#000" stroke-width="1.4"/>
<line x1="201.70" y1="1181.50" x2="209.70" y2="1181.50" stroke="#000" stroke-width="1.4"/>
<rect x="178.00" y="1196.20" width="55.40" height="38.80" fill="black" stroke="#000" stroke-width="1.45"/>
<line x1="271.20" y1="1086.80" x2="271.20" y2="1123.00" stroke="#000" stroke-width="1.4"/>
<line x1="267.20" y1="1086.80" x2="275.20" y2="1086.80" stroke="#000" stroke-width="1.4"/>
<rect x="243.50" y="1123.00" width="55.40" height="112.00" fill="url(#p2)" stroke="#000" stroke-width="1.45"/>
<line x1="337.60" y1="1027.20" x2="337.60" y2="1033.40" stroke="#000" stroke-width="1.4"/>
<line x1="333.60" y1="1027.20" x2="341.60" y2="1027.20" stroke="#000" stroke-width="1.4"/>
<rect x="310.50" y="1033.40" width="54.20" height="201.60" fill="url(#p3)" stroke="#000" stroke-width="1.45"/>
<line x1="403.50" y1="1022.80" x2="403.50" y2="1045.90" stroke="#000" stroke-width="1.4"/>
<line x1="399.50" y1="1022.80" x2="407.50" y2="1022.80" stroke="#000" stroke-width="1.4"/>
<rect x="376.20" y="1045.90" width="54.60" height="189.10" fill="url(#p4)" stroke="#000" stroke-width="1.45"/>
<line x1="469.25" y1="965.50" x2="469.25" y2="979.00" stroke="#000" stroke-width="1.4"/>
<line x1="465.25" y1="965.50" x2="473.25" y2="965.50" stroke="#000" stroke-width="1.4"/>
<rect x="442.10" y="979.00" width="54.30" height="256.00" fill="url(#p5)" stroke="#000" stroke-width="1.45"/>
<line x1="535.40" y1="1195.20" x2="535.40" y2="1205.70" stroke="#000" stroke-width="1.4"/>
<line x1="531.40" y1="1195.20" x2="539.40" y2="1195.20" stroke="#000" stroke-width="1.4"/>
<rect x="508.00" y="1205.70" width="54.80" height="29.30" fill="url(#p6)" stroke="#000" stroke-width="1.45"/>
<line x1="656.20" y1="1188.60" x2="656.20" y2="1190.40" stroke="#000" stroke-width="1.4"/>
<line x1="652.20" y1="1188.60" x2="660.20" y2="1188.60" stroke="#000" stroke-width="1.4"/>
<rect x="628.50" y="1190.40" width="55.40" height="44.60" fill="url(#p7)" stroke="#000" stroke-width="1.45"/>
<line x1="722.45" y1="1087.50" x2="722.45" y2="1112.50" stroke="#000" stroke-width="1.4"/>
<line x1="718.45" y1="1087.50" x2="726.45" y2="1087.50" stroke="#000" stroke-width="1.4"/>
<rect x="694.50" y="1112.50" width="55.90" height="122.50" fill="url(#p8)" stroke="#000" stroke-width="1.45"/>
<line x1="100.40" y1="903.70" x2="100.40" y2="1236.00" stroke="#000" stroke-width="1.7"/>
<line x1="99.40" y1="1235.00" x2="760.80" y2="1235.00" stroke="#000" stroke-width="1.9"/>
<line x1="99.60" y1="903.90" x2="570.00" y2="903.90" stroke="#000" stroke-width="2.0"/>
<line x1="614.20" y1="903.90" x2="761.50" y2="903.90" stroke="#000" stroke-width="2.0"/>
<line x1="92.90" y1="1235.00" x2="100.40" y2="1235.00" stroke="#000" stroke-width="1.5"/>
<line x1="92.90" y1="1152.30" x2="100.40" y2="1152.30" stroke="#000" stroke-width="1.5"/>
<line x1="92.90" y1="1069.60" x2="100.40" y2="1069.60" stroke="#000" stroke-width="1.5"/>
<line x1="92.90" y1="986.90" x2="100.40" y2="986.90" stroke="#000" stroke-width="1.5"/>
<line x1="92.90" y1="904.20" x2="100.40" y2="904.20" stroke="#000" stroke-width="1.5"/>
<line x1="96.40" y1="1193.65" x2="100.40" y2="1193.65" stroke="#000" stroke-width="1.3"/>
<line x1="96.40" y1="1110.95" x2="100.40" y2="1110.95" stroke="#000" stroke-width="1.3"/>
<line x1="96.40" y1="1028.25" x2="100.40" y2="1028.25" stroke="#000" stroke-width="1.3"/>
<line x1="96.40" y1="945.55" x2="100.40" y2="945.55" stroke="#000" stroke-width="1.3"/>
<text x="43.00" y="1241.60" font-size="23" transform="translate(43.90,0) scale(0.9821,1) translate(-43.90,0)"><tspan y="1241.60" font-size="23">0.00</tspan></text>
<text x="43.00" y="1158.90" font-size="23" transform="translate(43.90,0) scale(0.9837,1) translate(-43.90,0)"><tspan y="1158.90" font-size="23">0.05</tspan></text>
<text x="43.00" y="1076.20" font-size="23" transform="translate(43.90,0) scale(0.9821,1) translate(-43.90,0)"><tspan y="1076.20" font-size="23">0.10</tspan></text>
<text x="43.00" y="993.50" font-size="23" transform="translate(43.90,0) scale(0.9837,1) translate(-43.90,0)"><tspan y="993.50" font-size="23">0.15</tspan></text>
<text x="43.00" y="910.80" font-size="23" transform="translate(43.90,0) scale(0.9821,1) translate(-43.90,0)"><tspan y="910.80" font-size="23">0.20</tspan></text>
<text x="193.30" y="1169.06" font-size="20" class="st"><tspan y="1169.06" font-size="20">*</tspan></text>
<text x="202.00" y="1169.06" font-size="20" class="st"><tspan y="1169.06" font-size="20">*</tspan></text>
<text x="210.60" y="1169.06" font-size="20" class="st"><tspan y="1169.06" font-size="20">*</tspan></text>
<text x="268.50" y="1070.06" font-size="20" class="st"><tspan y="1070.06" font-size="20">*</tspan></text>
<text x="461.50" y="955.66" font-size="20" class="st"><tspan y="955.66" font-size="20">*</tspan></text>
<text x="470.40" y="955.66" font-size="20" class="st"><tspan y="955.66" font-size="20">*</tspan></text>
<text x="523.70" y="1183.56" font-size="20" class="st"><tspan y="1183.56" font-size="20">*</tspan></text>
<text x="532.60" y="1183.56" font-size="20" class="st"><tspan y="1183.56" font-size="20">*</tspan></text>
<text x="541.50" y="1183.56" font-size="20" class="st"><tspan y="1183.56" font-size="20">*</tspan></text>
<text x="704.40" y="1072.80" font-size="22.5" transform="translate(704.50,0) scale(0.9777,1) translate(-704.50,0)" class="bd"><tspan y="1072.80" font-size="22.5">###</tspan></text>
<text x="120.73" y="1266.70" font-size="22" transform="translate(122.30,0) scale(0.9815,1) translate(-122.30,0)"><tspan y="1266.70" font-size="22">[K</tspan><tspan y="1255.60" font-size="12">+</tspan><tspan y="1266.70" font-size="22">]</tspan><tspan y="1277.20" font-size="16">i</tspan></text>
<text x="178.13" y="1266.70" font-size="22" transform="translate(179.70,0) scale(0.9769,1) translate(-179.70,0)"><tspan y="1266.70" font-size="22">[NH</tspan><tspan y="1277.70" font-size="13.5">4</tspan><tspan y="1255.60" font-size="12">+</tspan><tspan y="1266.70" font-size="22">]</tspan><tspan y="1277.20" font-size="16">i</tspan></text>
<text x="256.03" y="1266.70" font-size="22" transform="translate(257.60,0) scale(0.9703,1) translate(-257.60,0)"><tspan y="1266.70" font-size="22">[Tl</tspan><tspan y="1255.60" font-size="12">+</tspan><tspan y="1266.70" font-size="22">]</tspan><tspan y="1277.20" font-size="16">i</tspan></text>
<text x="317.63" y="1266.70" font-size="22" transform="translate(319.20,0) scale(0.9679,1) translate(-319.20,0)"><tspan y="1266.70" font-size="22">[Rb</tspan><tspan y="1255.60" font-size="12">+</tspan><tspan y="1266.70" font-size="22">]</tspan><tspan y="1277.20" font-size="16">i</tspan></text>
<text x="369.43" y="1266.70" font-size="22"><tspan y="1266.70" font-size="22">[NMG</tspan><tspan y="1255.60" font-size="12">+</tspan><tspan y="1266.70" font-size="22">]</tspan><tspan y="1277.20" font-size="16">i</tspan></text>
<text x="443.53" y="1266.70" font-size="22" transform="translate(445.10,0) scale(1.0064,1) translate(-445.10,0)"><tspan y="1266.70" font-size="22">[Na</tspan><tspan y="1255.60" font-size="12">+</tspan><tspan y="1266.70" font-size="22">]</tspan><tspan y="1277.20" font-size="16">i</tspan></text>
<text x="507.90" y="1266.70" font-size="22" transform="translate(508.00,0) scale(1.0099,1) translate(-508.00,0)"><tspan y="1266.70" font-size="22">WT[K</tspan><tspan y="1255.60" font-size="12">+</tspan><tspan y="1266.70" font-size="22">]</tspan><tspan y="1277.20" font-size="16">i</tspan></text>
<text x="629.53" y="1266.70" font-size="22" transform="translate(631.10,0) scale(1.0184,1) translate(-631.10,0)"><tspan y="1266.70" font-size="22">[NH</tspan><tspan y="1277.70" font-size="13.5">4</tspan><tspan y="1255.60" font-size="12">+</tspan><tspan y="1266.70" font-size="22">]</tspan><tspan y="1277.20" font-size="16">i</tspan></text>
<text x="706.43" y="1266.70" font-size="22" transform="translate(708.00,0) scale(0.9750,1) translate(-708.00,0)"><tspan y="1266.70" font-size="22">[K</tspan><tspan y="1255.60" font-size="12">+</tspan><tspan y="1266.70" font-size="22">]</tspan><tspan y="1277.20" font-size="16">i</tspan></text>
<g transform="translate(25.2,1167.4) rotate(-90)"><text x="0" y="0" font-size="22" transform="translate(-1.23,0.00) scale(0.9,1)">(</text><text x="0" y="0" font-size="22" transform="translate(4.57,0.00) scale(0.9,1)">σ</text><text x="0" y="0" font-size="16" transform="translate(18.00,7.40) scale(0.9,1)">o</text><text x="0" y="0" font-size="16" transform="translate(26.68,-10.30) scale(0.9,1)">2</text><text x="0" y="0" font-size="22" transform="translate(38.82,0.00) scale(1.1,1)">-</text><text x="0" y="0" font-size="22" transform="translate(51.57,0.00) scale(0.9,1)">σ</text><text x="0" y="0" font-size="16" transform="translate(64.79,7.40) scale(0.9,1)">c</text><text x="0" y="0" font-size="16" transform="translate(71.88,-10.30) scale(0.9,1)">2</text><text x="0" y="0" font-size="22" transform="translate(85.38,0.00) scale(0.9,1)">)</text><text x="0" y="0" font-size="22" transform="translate(98.70,0.00) scale(0.9,1)">/</text><text x="0" y="0" font-size="22" transform="translate(110.28,0.00) scale(0.9,1)">i</text><text x="0" y="0" font-size="22" transform="translate(133.57,0.00) scale(0.9,1)">(</text><text x="0" y="0" font-size="22" transform="translate(140.12,0.00) scale(0.9,1)">p</text><text x="0" y="0" font-size="22" transform="translate(152.96,0.00) scale(0.9,1)">A</text><text x="0" y="0" font-size="22" transform="translate(166.38,0.00) scale(0.9,1)">)</text></g>
</svg></body></html>
